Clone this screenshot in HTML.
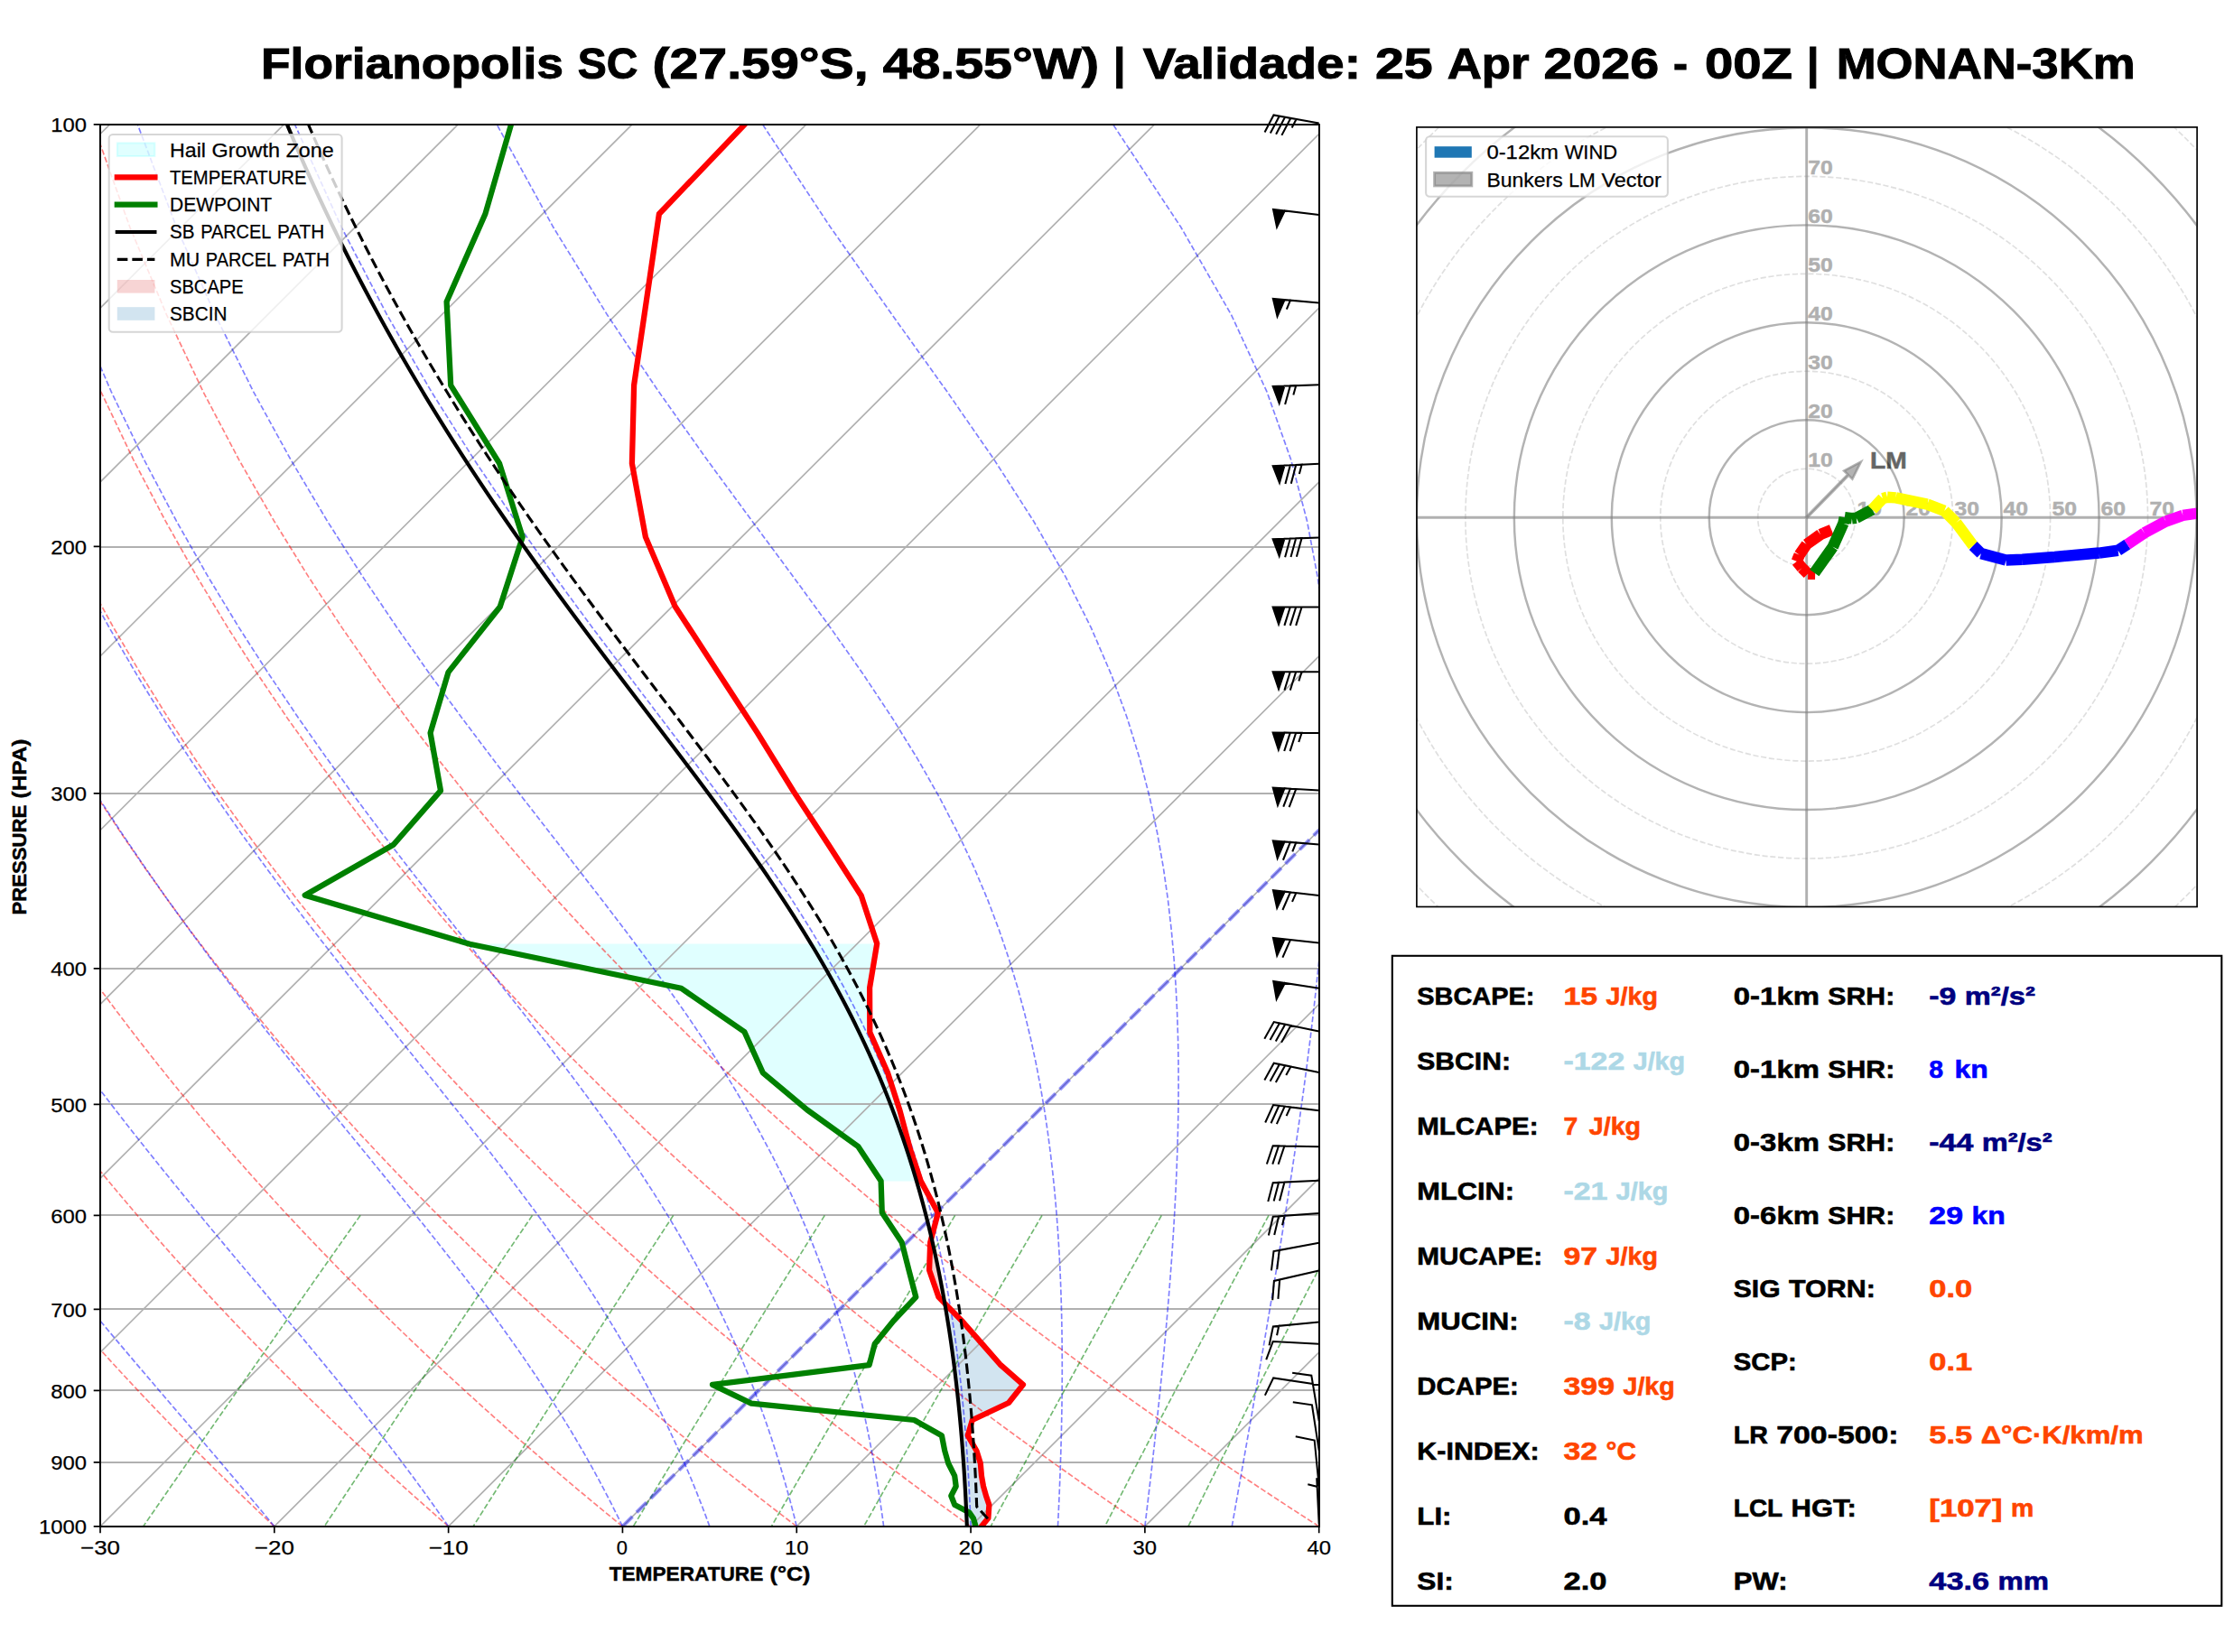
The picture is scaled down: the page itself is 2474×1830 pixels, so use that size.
<!DOCTYPE html>
<html><head><meta charset="utf-8"><title>Skew-T</title><style>html,body{margin:0;padding:0;background:#fff}svg{display:block}text{font-family:"Liberation Sans",sans-serif}</style></head><body>
<svg width="2474" height="1830" viewBox="0 0 2474 1830">
<rect width="2474" height="1830" fill="#fff"/>
<defs><clipPath id="cs"><rect x="111.0" y="137.8" width="1349.7" height="1553.1000000000001"/></clipPath>
<clipPath id="ch"><rect x="1568.9" y="141.4" width="863.6" height="863.6"/></clipPath></defs>
<text y="86.50" font-size="48.13" font-weight="bold" fill="#000" stroke="#000" stroke-width="1.01"><tspan x="289.00" textLength="334.87" lengthAdjust="spacingAndGlyphs">Florianopolis</tspan><tspan x="639.83" textLength="66.65" lengthAdjust="spacingAndGlyphs">SC</tspan><tspan x="722.43" textLength="239.26" lengthAdjust="spacingAndGlyphs">(27.59°S,</tspan><tspan x="977.65" textLength="239.39" lengthAdjust="spacingAndGlyphs">48.55°W)</tspan><tspan x="1233.00">|</tspan><tspan x="1265.69" textLength="241.28" lengthAdjust="spacingAndGlyphs">Validade:</tspan><tspan x="1522.92" textLength="63.78" lengthAdjust="spacingAndGlyphs">25</tspan><tspan x="1602.66" textLength="90.88" lengthAdjust="spacingAndGlyphs">Apr</tspan><tspan x="1709.50" textLength="127.56" lengthAdjust="spacingAndGlyphs">2026</tspan><tspan x="1853.02">-</tspan><tspan x="1888.00" textLength="97.01" lengthAdjust="spacingAndGlyphs">00Z</tspan><tspan x="2000.97">|</tspan><tspan x="2033.67" textLength="330.95" lengthAdjust="spacingAndGlyphs">MONAN-3Km</tspan></text>
<g clip-path="url(#cs)" fill="none">
<path d="M520.20,1045.50 L754.40,1094.80 L824.40,1143.00 L844.80,1188.30 L893.80,1229.40 L950.30,1270.00 L975.60,1308.60 L1019.70,1308.60 L1007.50,1271.40 L996.60,1230.50 L983.00,1188.30 L963.30,1143.40 L963.10,1094.30 L971.20,1045.50Z" fill="#00ffff" fill-opacity="0.12"/>
<path d="M1031.46,1371.50 L1031.33,1372.00 L1031.20,1372.50 L1031.07,1373.00 L1030.94,1373.50 L1030.80,1374.00 L1030.67,1374.50 L1030.54,1375.00 L1030.41,1375.50 L1030.28,1376.00 L1030.19,1376.50 L1030.17,1377.00 L1030.16,1377.50 L1030.14,1378.00 L1030.12,1378.50 L1030.10,1379.00 L1030.08,1379.50 L1030.07,1380.00 L1030.05,1380.50 L1030.03,1381.00 L1030.01,1381.50 L1030.00,1382.00 L1029.98,1382.50 L1029.96,1383.00 L1029.94,1383.50 L1029.92,1384.00 L1029.91,1384.50 L1029.89,1385.00 L1029.87,1385.50 L1029.85,1386.00 L1029.83,1386.50 L1029.82,1387.00 L1029.80,1387.50 L1029.78,1388.00 L1029.76,1388.50 L1029.74,1389.00 L1029.73,1389.50 L1029.71,1390.00 L1029.69,1390.50 L1029.67,1391.00 L1029.65,1391.50 L1029.64,1392.00 L1029.62,1392.50 L1029.60,1393.00 L1029.58,1393.50 L1029.56,1394.00 L1029.55,1394.50 L1029.53,1395.00 L1029.51,1395.50 L1029.49,1396.00 L1029.47,1396.50 L1029.46,1397.00 L1029.44,1397.50 L1029.42,1398.00 L1029.40,1398.50 L1029.38,1399.00 L1029.37,1399.50 L1029.35,1400.00 L1029.33,1400.50 L1029.31,1401.00 L1029.29,1401.50 L1029.28,1402.00 L1029.26,1402.50 L1029.24,1403.00 L1029.22,1403.50 L1029.20,1404.00 L1029.19,1404.50 L1029.17,1405.00 L1029.15,1405.50 L1029.13,1406.00 L1029.11,1406.50 L1029.13,1407.00 L1029.31,1407.50 L1029.48,1408.00 L1029.65,1408.50 L1029.83,1409.00 L1030.00,1409.50 L1030.17,1410.00 L1030.35,1410.50 L1030.52,1411.00 L1030.69,1411.50 L1030.87,1412.00 L1031.04,1412.50 L1031.21,1413.00 L1031.39,1413.50 L1031.56,1414.00 L1031.73,1414.50 L1031.91,1415.00 L1032.08,1415.50 L1032.25,1416.00 L1032.43,1416.50 L1032.60,1417.00 L1032.77,1417.50 L1032.95,1418.00 L1033.12,1418.50 L1033.29,1419.00 L1033.47,1419.50 L1033.64,1420.00 L1033.81,1420.50 L1033.99,1421.00 L1034.16,1421.50 L1034.33,1422.00 L1034.51,1422.50 L1034.68,1423.00 L1034.85,1423.50 L1035.03,1424.00 L1035.20,1424.50 L1035.37,1425.00 L1035.55,1425.50 L1035.72,1426.00 L1035.89,1426.50 L1036.07,1427.00 L1036.24,1427.50 L1036.41,1428.00 L1036.59,1428.50 L1036.76,1429.00 L1036.93,1429.50 L1037.11,1430.00 L1037.28,1430.50 L1037.45,1431.00 L1037.63,1431.50 L1037.80,1432.00 L1037.97,1432.50 L1038.15,1433.00 L1038.32,1433.50 L1038.49,1434.00 L1038.67,1434.50 L1038.84,1435.00 L1039.01,1435.50 L1039.19,1436.00 L1039.36,1436.50 L1039.60,1437.00 L1040.09,1437.50 L1040.58,1438.00 L1041.06,1438.50 L1041.55,1439.00 L1042.04,1439.50 L1042.53,1440.00 L1043.02,1440.50 L1043.51,1441.00 L1044.00,1441.50 L1044.49,1442.00 L1044.98,1442.50 L1045.46,1443.00 L1045.95,1443.50 L1046.23,1443.50 L1046.14,1443.00 L1046.06,1442.50 L1045.97,1442.00 L1045.88,1441.50 L1045.79,1441.00 L1045.70,1440.50 L1045.61,1440.00 L1045.53,1439.50 L1045.44,1439.00 L1045.35,1438.50 L1045.26,1438.00 L1045.17,1437.50 L1045.08,1437.00 L1044.99,1436.50 L1044.90,1436.00 L1044.81,1435.50 L1044.72,1435.00 L1044.63,1434.50 L1044.54,1434.00 L1044.45,1433.50 L1044.35,1433.00 L1044.26,1432.50 L1044.17,1432.00 L1044.08,1431.50 L1043.99,1431.00 L1043.90,1430.50 L1043.80,1430.00 L1043.71,1429.50 L1043.62,1429.00 L1043.53,1428.50 L1043.43,1428.00 L1043.34,1427.50 L1043.25,1427.00 L1043.15,1426.50 L1043.06,1426.00 L1042.96,1425.50 L1042.87,1425.00 L1042.77,1424.50 L1042.68,1424.00 L1042.58,1423.50 L1042.49,1423.00 L1042.39,1422.50 L1042.30,1422.00 L1042.20,1421.50 L1042.11,1421.00 L1042.01,1420.50 L1041.92,1420.00 L1041.82,1419.50 L1041.72,1419.00 L1041.63,1418.50 L1041.53,1418.00 L1041.43,1417.50 L1041.33,1417.00 L1041.24,1416.50 L1041.14,1416.00 L1041.04,1415.50 L1040.94,1415.00 L1040.84,1414.50 L1040.74,1414.00 L1040.65,1413.50 L1040.55,1413.00 L1040.45,1412.50 L1040.35,1412.00 L1040.25,1411.50 L1040.15,1411.00 L1040.05,1410.50 L1039.95,1410.00 L1039.85,1409.50 L1039.75,1409.00 L1039.65,1408.50 L1039.54,1408.00 L1039.44,1407.50 L1039.34,1407.00 L1039.24,1406.50 L1039.14,1406.00 L1039.04,1405.50 L1038.93,1405.00 L1038.83,1404.50 L1038.73,1404.00 L1038.63,1403.50 L1038.52,1403.00 L1038.42,1402.50 L1038.32,1402.00 L1038.21,1401.50 L1038.11,1401.00 L1038.00,1400.50 L1037.90,1400.00 L1037.80,1399.50 L1037.69,1399.00 L1037.59,1398.50 L1037.48,1398.00 L1037.37,1397.50 L1037.27,1397.00 L1037.16,1396.50 L1037.06,1396.00 L1036.95,1395.50 L1036.84,1395.00 L1036.74,1394.50 L1036.63,1394.00 L1036.52,1393.50 L1036.42,1393.00 L1036.31,1392.50 L1036.20,1392.00 L1036.09,1391.50 L1035.99,1391.00 L1035.88,1390.50 L1035.77,1390.00 L1035.66,1389.50 L1035.55,1389.00 L1035.44,1388.50 L1035.33,1388.00 L1035.22,1387.50 L1035.11,1387.00 L1035.00,1386.50 L1034.89,1386.00 L1034.78,1385.50 L1034.67,1385.00 L1034.56,1384.50 L1034.45,1384.00 L1034.34,1383.50 L1034.23,1383.00 L1034.11,1382.50 L1034.00,1382.00 L1033.89,1381.50 L1033.78,1381.00 L1033.67,1380.50 L1033.55,1380.00 L1033.44,1379.50 L1033.33,1379.00 L1033.21,1378.50 L1033.10,1378.00 L1032.98,1377.50 L1032.87,1377.00 L1032.76,1376.50 L1032.64,1376.00 L1032.53,1375.50 L1032.41,1375.00 L1032.30,1374.50 L1032.18,1374.00 L1032.07,1373.50 L1031.95,1373.00 L1031.83,1372.50 L1031.72,1372.00 L1031.60,1371.50Z" fill="#d62728" fill-opacity="0.2"/>
<path d="M1046.44,1444.00 L1046.93,1444.50 L1047.42,1445.00 L1047.91,1445.50 L1048.40,1446.00 L1048.89,1446.50 L1049.38,1447.00 L1049.87,1447.50 L1050.35,1448.00 L1050.84,1448.50 L1051.33,1449.00 L1051.82,1449.50 L1052.31,1450.00 L1052.80,1450.50 L1053.29,1451.00 L1053.78,1451.50 L1054.27,1452.00 L1054.75,1452.50 L1055.24,1453.00 L1055.73,1453.50 L1056.22,1454.00 L1056.71,1454.50 L1057.20,1455.00 L1057.69,1455.50 L1058.18,1456.00 L1058.67,1456.50 L1059.15,1457.00 L1059.64,1457.50 L1060.13,1458.00 L1060.62,1458.50 L1061.11,1459.00 L1061.60,1459.50 L1062.09,1460.00 L1062.58,1460.50 L1063.07,1461.00 L1063.56,1461.50 L1064.04,1462.00 L1064.53,1462.50 L1065.02,1463.00 L1065.51,1463.50 L1066.00,1464.00 L1066.44,1464.50 L1066.88,1465.00 L1067.32,1465.50 L1067.75,1466.00 L1068.19,1466.50 L1068.63,1467.00 L1069.07,1467.50 L1069.51,1468.00 L1069.95,1468.50 L1070.39,1469.00 L1070.82,1469.50 L1071.26,1470.00 L1071.70,1470.50 L1072.14,1471.00 L1072.58,1471.50 L1073.02,1472.00 L1073.46,1472.50 L1073.89,1473.00 L1074.33,1473.50 L1074.77,1474.00 L1075.21,1474.50 L1075.65,1475.00 L1076.09,1475.50 L1076.53,1476.00 L1076.96,1476.50 L1077.40,1477.00 L1077.84,1477.50 L1078.28,1478.00 L1078.72,1478.50 L1079.16,1479.00 L1079.60,1479.50 L1080.03,1480.00 L1080.47,1480.50 L1080.91,1481.00 L1081.35,1481.50 L1081.79,1482.00 L1082.23,1482.50 L1082.67,1483.00 L1083.10,1483.50 L1083.54,1484.00 L1083.98,1484.50 L1084.42,1485.00 L1084.86,1485.50 L1085.30,1486.00 L1085.74,1486.50 L1086.17,1487.00 L1086.61,1487.50 L1087.05,1488.00 L1087.49,1488.50 L1087.92,1489.00 L1088.36,1489.50 L1088.80,1490.00 L1089.23,1490.50 L1089.67,1491.00 L1090.11,1491.50 L1090.54,1492.00 L1090.98,1492.50 L1091.42,1493.00 L1091.85,1493.50 L1092.29,1494.00 L1092.73,1494.50 L1093.16,1495.00 L1093.60,1495.50 L1094.04,1496.00 L1094.47,1496.50 L1094.91,1497.00 L1095.35,1497.50 L1095.78,1498.00 L1096.22,1498.50 L1096.66,1499.00 L1097.09,1499.50 L1097.53,1500.00 L1097.97,1500.50 L1098.40,1501.00 L1098.84,1501.50 L1099.28,1502.00 L1099.71,1502.50 L1100.15,1503.00 L1100.59,1503.50 L1101.02,1504.00 L1101.46,1504.50 L1101.90,1505.00 L1102.33,1505.50 L1102.77,1506.00 L1103.21,1506.50 L1103.64,1507.00 L1104.08,1507.50 L1104.52,1508.00 L1104.95,1508.50 L1105.39,1509.00 L1105.83,1509.50 L1106.26,1510.00 L1106.70,1510.50 L1107.14,1511.00 L1107.63,1511.50 L1108.19,1512.00 L1108.76,1512.50 L1109.33,1513.00 L1109.89,1513.50 L1110.46,1514.00 L1111.02,1514.50 L1111.59,1515.00 L1112.16,1515.50 L1112.72,1516.00 L1113.29,1516.50 L1113.86,1517.00 L1114.42,1517.50 L1114.99,1518.00 L1115.56,1518.50 L1116.12,1519.00 L1116.69,1519.50 L1117.25,1520.00 L1117.82,1520.50 L1118.39,1521.00 L1118.95,1521.50 L1119.52,1522.00 L1120.09,1522.50 L1120.65,1523.00 L1121.22,1523.50 L1121.79,1524.00 L1122.35,1524.50 L1122.92,1525.00 L1123.48,1525.50 L1124.05,1526.00 L1124.62,1526.50 L1125.18,1527.00 L1125.75,1527.50 L1126.32,1528.00 L1126.88,1528.50 L1127.45,1529.00 L1128.02,1529.50 L1128.58,1530.00 L1129.15,1530.50 L1129.72,1531.00 L1130.28,1531.50 L1130.85,1532.00 L1131.41,1532.50 L1131.98,1533.00 L1132.55,1533.50 L1132.92,1534.00 L1132.52,1534.50 L1132.12,1535.00 L1131.73,1535.50 L1131.33,1536.00 L1130.93,1536.50 L1130.53,1537.00 L1130.13,1537.50 L1129.74,1538.00 L1129.34,1538.50 L1128.94,1539.00 L1128.54,1539.50 L1128.14,1540.00 L1127.75,1540.50 L1127.35,1541.00 L1126.95,1541.50 L1126.55,1542.00 L1126.15,1542.50 L1125.76,1543.00 L1125.36,1543.50 L1124.96,1544.00 L1124.56,1544.50 L1124.16,1545.00 L1123.77,1545.50 L1123.37,1546.00 L1122.97,1546.50 L1122.57,1547.00 L1122.17,1547.50 L1121.78,1548.00 L1121.38,1548.50 L1120.98,1549.00 L1120.58,1549.50 L1120.18,1550.00 L1119.79,1550.50 L1119.39,1551.00 L1118.99,1551.50 L1118.59,1552.00 L1118.19,1552.50 L1117.80,1553.00 L1117.40,1553.50 L1117.00,1554.00 L1115.94,1554.50 L1114.88,1555.00 L1113.83,1555.50 L1112.77,1556.00 L1111.71,1556.50 L1110.65,1557.00 L1109.59,1557.50 L1108.54,1558.00 L1107.48,1558.50 L1106.42,1559.00 L1105.36,1559.50 L1104.31,1560.00 L1103.25,1560.50 L1102.19,1561.00 L1101.13,1561.50 L1100.07,1562.00 L1099.02,1562.50 L1097.96,1563.00 L1096.90,1563.50 L1095.84,1564.00 L1094.78,1564.50 L1093.73,1565.00 L1092.67,1565.50 L1091.61,1566.00 L1090.55,1566.50 L1089.49,1567.00 L1088.44,1567.50 L1087.38,1568.00 L1086.32,1568.50 L1085.26,1569.00 L1084.21,1569.50 L1083.15,1570.00 L1082.09,1570.50 L1081.03,1571.00 L1079.97,1571.50 L1078.92,1572.00 L1077.86,1572.50 L1076.80,1573.00 L1076.65,1573.50 L1076.51,1574.00 L1076.36,1574.50 L1076.22,1575.00 L1076.07,1575.50 L1075.93,1576.00 L1075.78,1576.50 L1075.64,1577.00 L1075.49,1577.50 L1075.35,1578.00 L1075.20,1578.50 L1075.06,1579.00 L1074.91,1579.50 L1074.77,1580.00 L1074.62,1580.50 L1074.47,1581.00 L1074.33,1581.50 L1074.18,1582.00 L1074.04,1582.50 L1073.89,1583.00 L1073.75,1583.50 L1073.60,1584.00 L1073.46,1584.50 L1073.31,1585.00 L1073.17,1585.50 L1073.02,1586.00 L1072.88,1586.50 L1072.73,1587.00 L1072.58,1587.50 L1072.44,1588.00 L1072.29,1588.50 L1072.15,1589.00 L1072.00,1589.50 L1071.86,1590.00 L1071.97,1590.50 L1072.26,1591.00 L1072.54,1591.50 L1072.83,1592.00 L1073.11,1592.50 L1073.40,1593.00 L1073.68,1593.50 L1073.97,1594.00 L1074.25,1594.50 L1074.54,1595.00 L1074.82,1595.50 L1075.11,1596.00 L1075.39,1596.50 L1075.68,1597.00 L1075.97,1597.50 L1076.25,1598.00 L1076.54,1598.50 L1076.82,1599.00 L1077.11,1599.50 L1077.39,1600.00 L1077.68,1600.50 L1077.96,1601.00 L1078.25,1601.50 L1078.53,1602.00 L1078.82,1602.50 L1079.10,1603.00 L1079.39,1603.50 L1079.67,1604.00 L1079.96,1604.50 L1080.24,1605.00 L1080.53,1605.50 L1080.82,1606.00 L1081.10,1606.50 L1081.39,1607.00 L1081.59,1607.50 L1081.75,1608.00 L1081.91,1608.50 L1082.06,1609.00 L1082.22,1609.50 L1082.37,1610.00 L1082.53,1610.50 L1082.68,1611.00 L1082.84,1611.50 L1083.00,1612.00 L1083.15,1612.50 L1083.31,1613.00 L1083.46,1613.50 L1083.62,1614.00 L1083.77,1614.50 L1083.93,1615.00 L1084.09,1615.50 L1084.24,1616.00 L1084.40,1616.50 L1084.55,1617.00 L1084.71,1617.50 L1084.87,1618.00 L1085.02,1618.50 L1085.18,1619.00 L1085.33,1619.50 L1085.49,1620.00 L1085.64,1620.50 L1085.80,1621.00 L1085.84,1621.50 L1085.89,1622.00 L1085.93,1622.50 L1085.97,1623.00 L1086.01,1623.50 L1086.06,1624.00 L1086.10,1624.50 L1086.14,1625.00 L1086.19,1625.50 L1086.23,1626.00 L1086.27,1626.50 L1086.31,1627.00 L1086.36,1627.50 L1086.40,1628.00 L1086.44,1628.50 L1086.49,1629.00 L1086.53,1629.50 L1086.57,1630.00 L1086.61,1630.50 L1086.66,1631.00 L1086.70,1631.50 L1086.74,1632.00 L1086.79,1632.50 L1086.83,1633.00 L1086.87,1633.50 L1086.91,1634.00 L1086.96,1634.50 L1087.00,1635.00 L1087.09,1635.50 L1087.18,1636.00 L1087.26,1636.50 L1087.35,1637.00 L1087.44,1637.50 L1087.53,1638.00 L1087.61,1638.50 L1087.70,1639.00 L1087.79,1639.50 L1087.88,1640.00 L1087.96,1640.50 L1088.05,1641.00 L1088.14,1641.50 L1088.23,1642.00 L1088.32,1642.50 L1088.40,1643.00 L1088.49,1643.50 L1088.58,1644.00 L1088.67,1644.50 L1088.75,1645.00 L1088.84,1645.50 L1088.93,1646.00 L1089.03,1646.50 L1089.17,1647.00 L1089.31,1647.50 L1089.45,1648.00 L1089.59,1648.50 L1089.74,1649.00 L1089.88,1649.50 L1090.02,1650.00 L1090.16,1650.50 L1090.30,1651.00 L1090.44,1651.50 L1090.58,1652.00 L1090.73,1652.50 L1090.87,1653.00 L1091.01,1653.50 L1091.15,1654.00 L1091.29,1654.50 L1091.43,1655.00 L1091.58,1655.50 L1091.72,1656.00 L1091.86,1656.50 L1092.00,1657.00 L1092.17,1657.50 L1092.34,1658.00 L1092.51,1658.50 L1092.68,1659.00 L1092.85,1659.50 L1093.02,1660.00 L1093.19,1660.50 L1093.36,1661.00 L1093.53,1661.50 L1093.70,1662.00 L1093.87,1662.50 L1094.04,1663.00 L1094.21,1663.50 L1094.38,1664.00 L1094.55,1664.50 L1094.72,1665.00 L1094.89,1665.50 L1095.06,1666.00 L1095.23,1666.50 L1095.40,1667.00 L1095.37,1667.50 L1095.33,1668.00 L1095.30,1668.50 L1095.26,1669.00 L1095.23,1669.50 L1095.20,1670.00 L1095.16,1670.50 L1095.13,1671.00 L1095.10,1671.50 L1095.06,1672.00 L1095.03,1672.50 L1094.99,1673.00 L1094.96,1673.50 L1094.93,1674.00 L1094.89,1674.50 L1094.86,1675.00 L1094.83,1675.50 L1094.79,1676.00 L1094.76,1676.50 L1094.72,1677.00 L1094.69,1677.50 L1094.66,1678.00 L1094.62,1678.50 L1094.59,1679.00 L1094.56,1679.50 L1094.52,1680.00 L1094.49,1680.50 L1094.45,1681.00 L1094.42,1681.50 L1094.23,1682.00 L1093.82,1682.50 L1093.40,1683.00 L1092.99,1683.50 L1092.57,1684.00 L1092.16,1684.50 L1091.74,1685.00 L1091.32,1685.50 L1090.91,1686.00 L1090.49,1686.50 L1090.08,1687.00 L1089.66,1687.50 L1089.24,1688.00 L1088.83,1688.50 L1088.41,1689.00 L1088.00,1689.50 L1087.58,1690.00 L1087.17,1690.50 L1086.77,1691.00 L1070.83,1691.00 L1070.81,1690.50 L1070.79,1690.00 L1070.77,1689.50 L1070.75,1689.00 L1070.73,1688.50 L1070.71,1688.00 L1070.69,1687.50 L1070.67,1687.00 L1070.65,1686.50 L1070.63,1686.00 L1070.61,1685.50 L1070.59,1685.00 L1070.57,1684.50 L1070.55,1684.00 L1070.53,1683.50 L1070.51,1683.00 L1070.49,1682.50 L1070.46,1682.00 L1070.44,1681.50 L1070.42,1681.00 L1070.40,1680.50 L1070.38,1680.00 L1070.36,1679.50 L1070.34,1679.00 L1070.31,1678.50 L1070.29,1678.00 L1070.27,1677.50 L1070.25,1677.00 L1070.22,1676.50 L1070.20,1676.00 L1070.18,1675.50 L1070.16,1675.00 L1070.13,1674.50 L1070.11,1674.00 L1070.09,1673.50 L1070.06,1673.00 L1070.04,1672.50 L1070.02,1672.00 L1069.99,1671.50 L1069.97,1671.00 L1069.95,1670.50 L1069.92,1670.00 L1069.90,1669.50 L1069.88,1669.00 L1069.85,1668.50 L1069.83,1668.00 L1069.80,1667.50 L1069.78,1667.00 L1069.76,1666.50 L1069.73,1666.00 L1069.71,1665.50 L1069.68,1665.00 L1069.66,1664.50 L1069.63,1664.00 L1069.61,1663.50 L1069.58,1663.00 L1069.56,1662.50 L1069.53,1662.00 L1069.51,1661.50 L1069.48,1661.00 L1069.45,1660.50 L1069.43,1660.00 L1069.40,1659.50 L1069.38,1659.00 L1069.35,1658.50 L1069.33,1658.00 L1069.30,1657.50 L1069.27,1657.00 L1069.25,1656.50 L1069.22,1656.00 L1069.19,1655.50 L1069.17,1655.00 L1069.14,1654.50 L1069.11,1654.00 L1069.09,1653.50 L1069.06,1653.00 L1069.03,1652.50 L1069.00,1652.00 L1068.98,1651.50 L1068.95,1651.00 L1068.92,1650.50 L1068.89,1650.00 L1068.86,1649.50 L1068.84,1649.00 L1068.81,1648.50 L1068.78,1648.00 L1068.75,1647.50 L1068.72,1647.00 L1068.69,1646.50 L1068.67,1646.00 L1068.64,1645.50 L1068.61,1645.00 L1068.58,1644.50 L1068.55,1644.00 L1068.52,1643.50 L1068.49,1643.00 L1068.46,1642.50 L1068.43,1642.00 L1068.40,1641.50 L1068.37,1641.00 L1068.34,1640.50 L1068.31,1640.00 L1068.28,1639.50 L1068.25,1639.00 L1068.22,1638.50 L1068.19,1638.00 L1068.16,1637.50 L1068.13,1637.00 L1068.10,1636.50 L1068.07,1636.00 L1068.04,1635.50 L1068.01,1635.00 L1067.98,1634.50 L1067.94,1634.00 L1067.91,1633.50 L1067.88,1633.00 L1067.85,1632.50 L1067.82,1632.00 L1067.79,1631.50 L1067.75,1631.00 L1067.72,1630.50 L1067.69,1630.00 L1067.66,1629.50 L1067.62,1629.00 L1067.59,1628.50 L1067.56,1628.00 L1067.53,1627.50 L1067.49,1627.00 L1067.46,1626.50 L1067.43,1626.00 L1067.39,1625.50 L1067.36,1625.00 L1067.33,1624.50 L1067.29,1624.00 L1067.26,1623.50 L1067.23,1623.00 L1067.19,1622.50 L1067.16,1622.00 L1067.12,1621.50 L1067.09,1621.00 L1067.06,1620.50 L1067.02,1620.00 L1066.99,1619.50 L1066.95,1619.00 L1066.92,1618.50 L1066.88,1618.00 L1066.85,1617.50 L1066.81,1617.00 L1066.78,1616.50 L1066.74,1616.00 L1066.70,1615.50 L1066.67,1615.00 L1066.63,1614.50 L1066.60,1614.00 L1066.56,1613.50 L1066.52,1613.00 L1066.49,1612.50 L1066.45,1612.00 L1066.42,1611.50 L1066.38,1611.00 L1066.34,1610.50 L1066.31,1610.00 L1066.27,1609.50 L1066.23,1609.00 L1066.19,1608.50 L1066.16,1608.00 L1066.12,1607.50 L1066.08,1607.00 L1066.04,1606.50 L1066.01,1606.00 L1065.97,1605.50 L1065.93,1605.00 L1065.89,1604.50 L1065.85,1604.00 L1065.81,1603.50 L1065.78,1603.00 L1065.74,1602.50 L1065.70,1602.00 L1065.66,1601.50 L1065.62,1601.00 L1065.58,1600.50 L1065.54,1600.00 L1065.50,1599.50 L1065.46,1599.00 L1065.42,1598.50 L1065.38,1598.00 L1065.34,1597.50 L1065.30,1597.00 L1065.26,1596.50 L1065.22,1596.00 L1065.18,1595.50 L1065.14,1595.00 L1065.10,1594.50 L1065.06,1594.00 L1065.02,1593.50 L1064.98,1593.00 L1064.94,1592.50 L1064.90,1592.00 L1064.85,1591.50 L1064.81,1591.00 L1064.77,1590.50 L1064.73,1590.00 L1064.69,1589.50 L1064.65,1589.00 L1064.60,1588.50 L1064.56,1588.00 L1064.52,1587.50 L1064.48,1587.00 L1064.43,1586.50 L1064.39,1586.00 L1064.35,1585.50 L1064.30,1585.00 L1064.26,1584.50 L1064.22,1584.00 L1064.17,1583.50 L1064.13,1583.00 L1064.09,1582.50 L1064.04,1582.00 L1064.00,1581.50 L1063.96,1581.00 L1063.91,1580.50 L1063.87,1580.00 L1063.82,1579.50 L1063.78,1579.00 L1063.73,1578.50 L1063.69,1578.00 L1063.64,1577.50 L1063.60,1577.00 L1063.55,1576.50 L1063.51,1576.00 L1063.46,1575.50 L1063.42,1575.00 L1063.37,1574.50 L1063.32,1574.00 L1063.28,1573.50 L1063.23,1573.00 L1063.19,1572.50 L1063.14,1572.00 L1063.09,1571.50 L1063.05,1571.00 L1063.00,1570.50 L1062.95,1570.00 L1062.90,1569.50 L1062.86,1569.00 L1062.81,1568.50 L1062.76,1568.00 L1062.71,1567.50 L1062.67,1567.00 L1062.62,1566.50 L1062.57,1566.00 L1062.52,1565.50 L1062.47,1565.00 L1062.43,1564.50 L1062.38,1564.00 L1062.33,1563.50 L1062.28,1563.00 L1062.23,1562.50 L1062.18,1562.00 L1062.13,1561.50 L1062.08,1561.00 L1062.03,1560.50 L1061.98,1560.00 L1061.93,1559.50 L1061.88,1559.00 L1061.83,1558.50 L1061.78,1558.00 L1061.73,1557.50 L1061.68,1557.00 L1061.63,1556.50 L1061.58,1556.00 L1061.53,1555.50 L1061.48,1555.00 L1061.43,1554.50 L1061.38,1554.00 L1061.32,1553.50 L1061.27,1553.00 L1061.22,1552.50 L1061.17,1552.00 L1061.12,1551.50 L1061.06,1551.00 L1061.01,1550.50 L1060.96,1550.00 L1060.91,1549.50 L1060.85,1549.00 L1060.80,1548.50 L1060.75,1548.00 L1060.69,1547.50 L1060.64,1547.00 L1060.59,1546.50 L1060.53,1546.00 L1060.48,1545.50 L1060.43,1545.00 L1060.37,1544.50 L1060.32,1544.00 L1060.26,1543.50 L1060.21,1543.00 L1060.15,1542.50 L1060.10,1542.00 L1060.04,1541.50 L1059.99,1541.00 L1059.93,1540.50 L1059.88,1540.00 L1059.82,1539.50 L1059.77,1539.00 L1059.71,1538.50 L1059.66,1538.00 L1059.60,1537.50 L1059.54,1537.00 L1059.49,1536.50 L1059.43,1536.00 L1059.37,1535.50 L1059.32,1535.00 L1059.26,1534.50 L1059.20,1534.00 L1059.15,1533.50 L1059.09,1533.00 L1059.03,1532.50 L1058.97,1532.00 L1058.92,1531.50 L1058.86,1531.00 L1058.80,1530.50 L1058.74,1530.00 L1058.68,1529.50 L1058.62,1529.00 L1058.56,1528.50 L1058.51,1528.00 L1058.45,1527.50 L1058.39,1527.00 L1058.33,1526.50 L1058.27,1526.00 L1058.21,1525.50 L1058.15,1525.00 L1058.09,1524.50 L1058.03,1524.00 L1057.97,1523.50 L1057.91,1523.00 L1057.85,1522.50 L1057.79,1522.00 L1057.73,1521.50 L1057.67,1521.00 L1057.60,1520.50 L1057.54,1520.00 L1057.48,1519.50 L1057.42,1519.00 L1057.36,1518.50 L1057.30,1518.00 L1057.23,1517.50 L1057.17,1517.00 L1057.11,1516.50 L1057.05,1516.00 L1056.98,1515.50 L1056.92,1515.00 L1056.86,1514.50 L1056.79,1514.00 L1056.73,1513.50 L1056.67,1513.00 L1056.60,1512.50 L1056.54,1512.00 L1056.48,1511.50 L1056.41,1511.00 L1056.35,1510.50 L1056.28,1510.00 L1056.22,1509.50 L1056.15,1509.00 L1056.09,1508.50 L1056.02,1508.00 L1055.96,1507.50 L1055.89,1507.00 L1055.83,1506.50 L1055.76,1506.00 L1055.70,1505.50 L1055.63,1505.00 L1055.56,1504.50 L1055.50,1504.00 L1055.43,1503.50 L1055.36,1503.00 L1055.30,1502.50 L1055.23,1502.00 L1055.16,1501.50 L1055.10,1501.00 L1055.03,1500.50 L1054.96,1500.00 L1054.89,1499.50 L1054.83,1499.00 L1054.76,1498.50 L1054.69,1498.00 L1054.62,1497.50 L1054.55,1497.00 L1054.48,1496.50 L1054.41,1496.00 L1054.35,1495.50 L1054.28,1495.00 L1054.21,1494.50 L1054.14,1494.00 L1054.07,1493.50 L1054.00,1493.00 L1053.93,1492.50 L1053.86,1492.00 L1053.79,1491.50 L1053.72,1491.00 L1053.65,1490.50 L1053.58,1490.00 L1053.50,1489.50 L1053.43,1489.00 L1053.36,1488.50 L1053.29,1488.00 L1053.22,1487.50 L1053.15,1487.00 L1053.07,1486.50 L1053.00,1486.00 L1052.93,1485.50 L1052.86,1485.00 L1052.79,1484.50 L1052.71,1484.00 L1052.64,1483.50 L1052.57,1483.00 L1052.49,1482.50 L1052.42,1482.00 L1052.35,1481.50 L1052.27,1481.00 L1052.20,1480.50 L1052.12,1480.00 L1052.05,1479.50 L1051.97,1479.00 L1051.90,1478.50 L1051.82,1478.00 L1051.75,1477.50 L1051.67,1477.00 L1051.60,1476.50 L1051.52,1476.00 L1051.45,1475.50 L1051.37,1475.00 L1051.30,1474.50 L1051.22,1474.00 L1051.14,1473.50 L1051.07,1473.00 L1050.99,1472.50 L1050.91,1472.00 L1050.84,1471.50 L1050.76,1471.00 L1050.68,1470.50 L1050.60,1470.00 L1050.52,1469.50 L1050.45,1469.00 L1050.37,1468.50 L1050.29,1468.00 L1050.21,1467.50 L1050.13,1467.00 L1050.05,1466.50 L1049.98,1466.00 L1049.90,1465.50 L1049.82,1465.00 L1049.74,1464.50 L1049.66,1464.00 L1049.58,1463.50 L1049.50,1463.00 L1049.42,1462.50 L1049.34,1462.00 L1049.26,1461.50 L1049.17,1461.00 L1049.09,1460.50 L1049.01,1460.00 L1048.93,1459.50 L1048.85,1459.00 L1048.77,1458.50 L1048.69,1458.00 L1048.60,1457.50 L1048.52,1457.00 L1048.44,1456.50 L1048.36,1456.00 L1048.27,1455.50 L1048.19,1455.00 L1048.11,1454.50 L1048.02,1454.00 L1047.94,1453.50 L1047.86,1453.00 L1047.77,1452.50 L1047.69,1452.00 L1047.60,1451.50 L1047.52,1451.00 L1047.44,1450.50 L1047.35,1450.00 L1047.27,1449.50 L1047.18,1449.00 L1047.09,1448.50 L1047.01,1448.00 L1046.92,1447.50 L1046.84,1447.00 L1046.75,1446.50 L1046.66,1446.00 L1046.58,1445.50 L1046.49,1445.00 L1046.40,1444.50 L1046.32,1444.00Z" fill="#1f77b4" fill-opacity="0.2"/>
<path d="M111.0,606H1460.7M111.0,879H1460.7M111.0,1073H1460.7M111.0,1223H1460.7M111.0,1346H1460.7M111.0,1450H1460.7M111.0,1540H1460.7M111.0,1620H1460.7" stroke="#b0b0b0" stroke-width="2"/>
<path d="M-1624.33,1690.9L-71.23,137.8M-1431.51,1690.9L121.59,137.8M-1238.70,1690.9L314.40,137.8M-1045.89,1690.9L507.21,137.8M-853.07,1690.9L700.03,137.8M-660.26,1690.9L892.84,137.8M-467.44,1690.9L1085.66,137.8M-274.63,1690.9L1278.47,137.8M-81.81,1690.9L1471.29,137.8M111.00,1690.9L1664.10,137.8M303.81,1690.9L1856.91,137.8M496.63,1690.9L2049.73,137.8M689.44,1690.9L2242.54,137.8M882.26,1690.9L2435.36,137.8M1075.07,1690.9L2628.17,137.8M1267.89,1690.9L2820.99,137.8M1460.70,1690.9L3013.80,137.8" stroke="#b0b0b0" stroke-width="1.67"/>
<path d="M111.00,1690.90 L98.74,1678.40 L86.38,1665.66 L73.92,1652.67 L61.36,1639.43 L48.70,1625.92 L35.93,1612.14 L23.06,1598.07 L10.08,1583.71 L-3.02,1569.02 L-16.23,1554.02 L-29.55,1538.67 L-42.99,1522.96 L-56.55,1506.88 L-70.23,1490.40 L-84.04,1473.52 L-97.98,1456.20 L-112.04,1438.42 L-126.24,1420.16 L-140.57,1401.39 L-155.04,1382.09 L-169.65,1362.22 L-184.40,1341.74 L-199.29,1320.63 L-214.33,1298.83 L-229.52,1276.30 L-244.85,1252.99 L-260.33,1228.85 L-275.96,1203.82 L-291.74,1177.82 L-307.66,1150.77 L-323.73,1122.60 L-339.94,1093.20 L-356.29,1062.46 L-372.76,1030.25 L-389.35,996.42 L-406.04,960.81 L-422.82,923.21 L-439.64,883.39 L-456.49,841.07 L-473.30,795.92 L-490.02,747.53 L-506.55,695.40 L-522.78,638.89 L-538.53,577.22 L-553.56,509.34 L-567.51,433.85 L-579.86,348.83 L-589.78,251.54 L-595.90,137.80M303.81,1690.90 L290.53,1678.40 L277.14,1665.66 L263.64,1652.67 L250.02,1639.43 L236.28,1625.92 L222.42,1612.14 L208.44,1598.07 L194.33,1583.71 L180.09,1569.02 L165.73,1554.02 L151.22,1538.67 L136.58,1522.96 L121.80,1506.88 L106.88,1490.40 L91.81,1473.52 L76.59,1456.20 L61.21,1438.42 L45.68,1420.16 L29.99,1401.39 L14.13,1382.09 L-1.90,1362.22 L-18.10,1341.74 L-34.47,1320.63 L-51.02,1298.83 L-67.76,1276.30 L-84.68,1252.99 L-101.79,1228.85 L-119.09,1203.82 L-136.59,1177.82 L-154.28,1150.77 L-172.17,1122.60 L-190.26,1093.20 L-208.54,1062.46 L-227.01,1030.25 L-245.68,996.42 L-264.52,960.81 L-283.53,923.21 L-302.68,883.39 L-321.96,841.07 L-341.32,795.92 L-360.72,747.53 L-380.08,695.40 L-399.29,638.89 L-418.23,577.22 L-436.67,509.34 L-454.30,433.85 L-470.66,348.83 L-484.98,251.54 L-496.03,137.80M496.63,1690.90 L482.33,1678.40 L467.91,1665.66 L453.35,1652.67 L438.67,1639.43 L423.86,1625.92 L408.91,1612.14 L393.82,1598.07 L378.59,1583.71 L363.21,1569.02 L347.68,1554.02 L332.00,1538.67 L316.16,1522.96 L300.16,1506.88 L284.00,1490.40 L267.66,1473.52 L251.15,1456.20 L234.47,1438.42 L217.60,1420.16 L200.55,1401.39 L183.30,1382.09 L165.86,1362.22 L148.21,1341.74 L130.36,1320.63 L112.29,1298.83 L94.00,1276.30 L75.49,1252.99 L56.75,1228.85 L37.78,1203.82 L18.56,1177.82 L-0.90,1150.77 L-20.61,1122.60 L-40.57,1093.20 L-60.79,1062.46 L-81.27,1030.25 L-102.00,996.42 L-123.00,960.81 L-144.24,923.21 L-165.73,883.39 L-187.44,841.07 L-209.35,795.92 L-231.42,747.53 L-253.60,695.40 L-275.81,638.89 L-297.93,577.22 L-319.78,509.34 L-341.09,433.85 L-361.45,348.83 L-380.19,251.54 L-396.16,137.80M689.44,1690.90 L674.12,1678.40 L658.67,1665.66 L643.07,1652.67 L627.33,1639.43 L611.44,1625.92 L595.40,1612.14 L579.20,1598.07 L562.84,1583.71 L546.32,1569.02 L529.63,1554.02 L512.77,1538.67 L495.73,1522.96 L478.51,1506.88 L461.11,1490.40 L443.51,1473.52 L425.72,1456.20 L407.73,1438.42 L389.53,1420.16 L371.11,1401.39 L352.47,1382.09 L333.61,1362.22 L314.52,1341.74 L295.18,1320.63 L275.60,1298.83 L255.76,1276.30 L235.66,1252.99 L215.29,1228.85 L194.65,1203.82 L173.71,1177.82 L152.49,1150.77 L130.96,1122.60 L109.12,1093.20 L86.96,1062.46 L64.48,1030.25 L41.67,996.42 L18.53,960.81 L-4.95,923.21 L-28.77,883.39 L-52.91,841.07 L-77.37,795.92 L-102.12,747.53 L-127.13,695.40 L-152.33,638.89 L-177.63,577.22 L-202.89,509.34 L-227.88,433.85 L-252.24,348.83 L-275.39,251.54 L-296.29,137.80M882.26,1690.90 L865.92,1678.40 L849.43,1665.66 L832.79,1652.67 L815.98,1639.43 L799.02,1625.92 L781.88,1612.14 L764.58,1598.07 L747.10,1583.71 L729.43,1569.02 L711.58,1554.02 L693.54,1538.67 L675.31,1522.96 L656.87,1506.88 L638.22,1490.40 L619.37,1473.52 L600.29,1456.20 L580.98,1438.42 L561.45,1420.16 L541.67,1401.39 L521.65,1382.09 L501.37,1362.22 L480.82,1341.74 L460.00,1320.63 L438.91,1298.83 L417.52,1276.30 L395.83,1252.99 L373.83,1228.85 L351.51,1203.82 L328.86,1177.82 L305.87,1150.77 L282.52,1122.60 L258.81,1093.20 L234.71,1062.46 L210.23,1030.25 L185.35,996.42 L160.05,960.81 L134.33,923.21 L108.19,883.39 L81.61,841.07 L54.60,795.92 L27.18,747.53 L-0.65,695.40 L-28.84,638.89 L-57.33,577.22 L-86.00,509.34 L-114.67,433.85 L-143.04,348.83 L-170.59,251.54 L-196.43,137.80M1075.07,1690.90 L1057.72,1678.40 L1040.20,1665.66 L1022.51,1652.67 L1004.64,1639.43 L986.60,1625.92 L968.37,1612.14 L949.96,1598.07 L931.35,1583.71 L912.54,1569.02 L893.54,1554.02 L874.32,1538.67 L854.88,1522.96 L835.23,1506.88 L815.34,1490.40 L795.22,1473.52 L774.86,1456.20 L754.24,1438.42 L733.37,1420.16 L712.23,1401.39 L690.82,1382.09 L669.12,1362.22 L647.13,1341.74 L624.83,1320.63 L602.22,1298.83 L579.28,1276.30 L556.00,1252.99 L532.37,1228.85 L508.38,1203.82 L484.01,1177.82 L459.25,1150.77 L434.08,1122.60 L408.49,1093.20 L382.46,1062.46 L355.98,1030.25 L329.02,996.42 L301.57,960.81 L273.62,923.21 L245.15,883.39 L216.14,841.07 L186.58,795.92 L156.47,747.53 L125.82,695.40 L94.64,638.89 L62.97,577.22 L30.89,509.34 L-1.46,433.85 L-33.83,348.83 L-65.80,251.54 L-96.56,137.80M1267.89,1690.90 L1249.51,1678.40 L1230.96,1665.66 L1212.22,1652.67 L1193.30,1639.43 L1174.18,1625.92 L1154.86,1612.14 L1135.34,1598.07 L1115.61,1583.71 L1095.66,1569.02 L1075.49,1554.02 L1055.09,1538.67 L1034.46,1522.96 L1013.58,1506.88 L992.45,1490.40 L971.07,1473.52 L949.42,1456.20 L927.50,1438.42 L905.29,1420.16 L882.79,1401.39 L859.99,1382.09 L836.87,1362.22 L813.43,1341.74 L789.65,1320.63 L765.53,1298.83 L741.04,1276.30 L716.17,1252.99 L690.91,1228.85 L665.25,1203.82 L639.16,1177.82 L612.63,1150.77 L585.65,1122.60 L558.18,1093.20 L530.21,1062.46 L501.73,1030.25 L472.69,996.42 L443.10,960.81 L412.91,923.21 L382.10,883.39 L350.66,841.07 L318.56,795.92 L285.77,747.53 L252.30,695.40 L218.12,638.89 L183.27,577.22 L147.78,509.34 L111.75,433.85 L75.37,348.83 L39.00,251.54 L3.31,137.80M1460.70,1690.90 L1441.31,1678.40 L1421.72,1665.66 L1401.94,1652.67 L1381.95,1639.43 L1361.76,1625.92 L1341.35,1612.14 L1320.72,1598.07 L1299.86,1583.71 L1278.77,1569.02 L1257.44,1554.02 L1235.86,1538.67 L1214.03,1522.96 L1191.94,1506.88 L1169.57,1490.40 L1146.92,1473.52 L1123.99,1456.20 L1100.76,1438.42 L1077.22,1420.16 L1053.35,1401.39 L1029.16,1382.09 L1004.63,1362.22 L979.74,1341.74 L954.48,1320.63 L928.84,1298.83 L902.80,1276.30 L876.34,1252.99 L849.45,1228.85 L822.12,1203.82 L794.31,1177.82 L766.02,1150.77 L737.21,1122.60 L707.87,1093.20 L677.96,1062.46 L647.47,1030.25 L616.37,996.42 L584.62,960.81 L552.20,923.21 L519.06,883.39 L485.19,841.07 L450.53,795.92 L415.07,747.53 L378.77,695.40 L341.61,638.89 L303.57,577.22 L264.67,509.34 L224.96,433.85 L184.58,348.83 L143.80,251.54 L103.18,137.80" stroke="#ff0000" stroke-opacity="0.5" stroke-width="1.67" stroke-dasharray="6.17,2.67"/>
<path d="M111.00,1690.90 L100.09,1678.40 L88.99,1665.66 L77.69,1652.67 L66.20,1639.43 L54.52,1625.92 L42.65,1612.14 L30.60,1598.07 L18.35,1583.71 L5.93,1569.02 L-6.69,1554.02 L-19.48,1538.67 L-32.46,1522.96 L-45.62,1506.88 L-58.95,1490.40 L-72.46,1473.52 L-86.15,1456.20 L-100.01,1438.42 L-114.04,1420.16 L-128.25,1401.39 L-142.63,1382.09 L-157.18,1362.22 L-171.89,1341.74 L-186.78,1320.63 L-201.83,1298.83 L-217.05,1276.30 L-232.44,1252.99 L-247.99,1228.85 L-263.71,1203.82 L-279.59,1177.82 L-295.62,1150.77 L-311.82,1122.60 L-328.16,1093.20 L-344.65,1062.46 L-361.27,1030.25 L-378.02,996.42 L-394.88,960.81 L-411.82,923.21 L-428.83,883.39 L-445.87,841.07 L-462.88,795.92 L-479.81,747.53 L-496.57,695.40 L-513.03,638.89 L-529.03,577.22 L-544.33,509.34 L-558.57,433.85 L-571.24,348.83 L-581.51,251.54 L-588.01,137.80M303.81,1690.90 L293.48,1678.40 L282.88,1665.66 L272.00,1652.67 L260.84,1639.43 L249.40,1625.92 L237.68,1612.14 L225.68,1598.07 L213.39,1583.71 L200.83,1569.02 L187.98,1554.02 L174.86,1538.67 L161.46,1522.96 L147.78,1506.88 L133.83,1490.40 L119.61,1473.52 L105.12,1456.20 L90.37,1438.42 L75.35,1420.16 L60.08,1401.39 L44.55,1382.09 L28.77,1362.22 L12.74,1341.74 L-3.54,1320.63 L-20.06,1298.83 L-36.82,1276.30 L-53.82,1252.99 L-71.06,1228.85 L-88.54,1203.82 L-106.25,1177.82 L-124.19,1150.77 L-142.36,1122.60 L-160.76,1093.20 L-179.38,1062.46 L-198.22,1030.25 L-217.27,996.42 L-236.52,960.81 L-255.96,923.21 L-275.57,883.39 L-295.32,841.07 L-315.19,795.92 L-335.11,747.53 L-355.03,695.40 L-374.84,638.89 L-394.40,577.22 L-413.52,509.34 L-431.88,433.85 L-449.03,348.83 L-464.23,251.54 L-476.25,137.80M496.63,1690.90 L487.94,1678.40 L478.93,1665.66 L469.57,1652.67 L459.88,1639.43 L449.82,1625.92 L439.39,1612.14 L428.59,1598.07 L417.40,1583.71 L405.82,1569.02 L393.84,1554.02 L381.46,1538.67 L368.66,1522.96 L355.45,1506.88 L341.82,1490.40 L327.77,1473.52 L313.30,1456.20 L298.41,1438.42 L283.11,1420.16 L267.39,1401.39 L251.26,1382.09 L234.73,1362.22 L217.79,1341.74 L200.46,1320.63 L182.75,1298.83 L164.65,1276.30 L146.17,1252.99 L127.33,1228.85 L108.13,1203.82 L88.57,1177.82 L68.66,1150.77 L48.40,1122.60 L27.80,1093.20 L6.87,1062.46 L-14.40,1030.25 L-35.99,996.42 L-57.90,960.81 L-80.12,923.21 L-102.65,883.39 L-125.45,841.07 L-148.52,795.92 L-171.82,747.53 L-195.30,695.40 L-218.89,638.89 L-242.47,577.22 L-265.89,509.34 L-288.90,433.85 L-311.10,348.83 L-331.87,251.54 L-350.12,137.80M689.44,1690.90 L683.36,1678.40 L676.97,1665.66 L670.27,1652.67 L663.25,1639.43 L655.87,1625.92 L648.12,1612.14 L639.99,1598.07 L631.44,1583.71 L622.47,1569.02 L613.05,1554.02 L603.15,1538.67 L592.75,1522.96 L581.83,1506.88 L570.38,1490.40 L558.36,1473.52 L545.77,1456.20 L532.57,1438.42 L518.75,1420.16 L504.30,1401.39 L489.21,1382.09 L473.46,1362.22 L457.05,1341.74 L439.97,1320.63 L422.23,1298.83 L403.82,1276.30 L384.75,1252.99 L365.03,1228.85 L344.67,1203.82 L323.69,1177.82 L302.09,1150.77 L279.90,1122.60 L257.12,1093.20 L233.77,1062.46 L209.88,1030.25 L185.44,996.42 L160.48,960.81 L135.00,923.21 L109.02,883.39 L82.55,841.07 L55.60,795.92 L28.21,747.53 L0.39,695.40 L-27.81,638.89 L-56.31,577.22 L-85.01,509.34 L-113.71,433.85 L-142.11,348.83 L-169.70,251.54 L-195.58,137.80M785.85,1690.90 L781.25,1678.40 L776.40,1665.66 L771.28,1652.67 L765.88,1639.43 L760.18,1625.92 L754.16,1612.14 L747.80,1598.07 L741.07,1583.71 L733.95,1569.02 L726.41,1554.02 L718.43,1538.67 L709.98,1522.96 L701.03,1506.88 L691.54,1490.40 L681.49,1473.52 L670.84,1456.20 L659.55,1438.42 L647.60,1420.16 L634.95,1401.39 L621.56,1382.09 L607.41,1362.22 L592.47,1341.74 L576.71,1320.63 L560.11,1298.83 L542.65,1276.30 L524.32,1252.99 L505.12,1228.85 L485.04,1203.82 L464.09,1177.82 L442.28,1150.77 L419.62,1122.60 L396.14,1093.20 L371.86,1062.46 L346.79,1030.25 L320.97,996.42 L294.43,960.81 L267.17,923.21 L239.24,883.39 L210.64,841.07 L181.40,795.92 L151.53,747.53 L121.07,695.40 L90.05,638.89 L58.53,577.22 L26.59,509.34 L-5.62,433.85 L-37.84,348.83 L-69.64,251.54 L-100.22,137.80M882.26,1690.90 L879.14,1678.40 L875.83,1665.66 L872.32,1652.67 L868.59,1639.43 L864.63,1625.92 L860.41,1612.14 L855.92,1598.07 L851.15,1583.71 L846.05,1569.02 L840.62,1554.02 L834.82,1538.67 L828.63,1522.96 L822.01,1506.88 L814.92,1490.40 L807.34,1473.52 L799.22,1456.20 L790.52,1438.42 L781.19,1420.16 L771.19,1401.39 L760.46,1382.09 L748.96,1362.22 L736.62,1341.74 L723.39,1320.63 L709.22,1298.83 L694.06,1276.30 L677.84,1252.99 L660.54,1228.85 L642.10,1203.82 L622.49,1177.82 L601.70,1150.77 L579.70,1122.60 L556.51,1093.20 L532.13,1062.46 L506.59,1030.25 L479.91,996.42 L452.13,960.81 L423.30,923.21 L393.45,883.39 L362.63,841.07 L330.89,795.92 L298.25,747.53 L264.76,695.40 L230.45,638.89 L195.36,577.22 L159.58,509.34 L123.20,433.85 L86.43,348.83 L49.61,251.54 L13.42,137.80M978.66,1690.90 L976.94,1678.40 L975.09,1665.66 L973.10,1652.67 L970.97,1639.43 L968.67,1625.92 L966.20,1612.14 L963.54,1598.07 L960.68,1583.71 L957.59,1569.02 L954.27,1554.02 L950.67,1538.67 L946.79,1522.96 L942.60,1506.88 L938.06,1490.40 L933.15,1473.52 L927.82,1456.20 L922.04,1438.42 L915.77,1420.16 L908.95,1401.39 L901.53,1382.09 L893.46,1362.22 L884.66,1341.74 L875.06,1320.63 L864.60,1298.83 L853.17,1276.30 L840.71,1252.99 L827.10,1228.85 L812.25,1203.82 L796.08,1177.82 L778.47,1150.77 L759.34,1122.60 L738.61,1093.20 L716.22,1062.46 L692.12,1030.25 L666.28,996.42 L638.71,960.81 L609.44,923.21 L578.52,883.39 L546.01,841.07 L512.00,795.92 L476.55,747.53 L439.77,695.40 L401.71,638.89 L362.45,577.22 L322.06,509.34 L280.64,433.85 L238.33,348.83 L195.39,251.54 L152.35,137.80M1075.07,1690.90 L1074.60,1678.40 L1074.06,1665.66 L1073.44,1652.67 L1072.74,1639.43 L1071.95,1625.92 L1071.05,1612.14 L1070.05,1598.07 L1068.92,1583.71 L1067.66,1569.02 L1066.26,1554.02 L1064.70,1538.67 L1062.96,1522.96 L1061.03,1506.88 L1058.88,1490.40 L1056.50,1473.52 L1053.85,1456.20 L1050.91,1438.42 L1047.65,1420.16 L1044.03,1401.39 L1040.01,1382.09 L1035.53,1362.22 L1030.56,1341.74 L1025.01,1320.63 L1018.83,1298.83 L1011.93,1276.30 L1004.23,1252.99 L995.61,1228.85 L985.97,1203.82 L975.17,1177.82 L963.06,1150.77 L949.49,1122.60 L934.27,1093.20 L917.21,1062.46 L898.13,1030.25 L876.83,996.42 L853.15,960.81 L826.92,923.21 L798.05,883.39 L766.49,841.07 L732.26,795.92 L695.44,747.53 L656.16,695.40 L614.58,638.89 L570.87,577.22 L525.20,509.34 L477.73,433.85 L428.62,348.83 L378.07,251.54 L326.45,137.80M1171.48,1690.90 L1172.09,1678.40 L1172.67,1665.66 L1173.23,1652.67 L1173.75,1639.43 L1174.24,1625.92 L1174.70,1612.14 L1175.11,1598.07 L1175.47,1583.71 L1175.77,1569.02 L1176.01,1554.02 L1176.18,1538.67 L1176.28,1522.96 L1176.28,1506.88 L1176.18,1490.40 L1175.98,1473.52 L1175.64,1456.20 L1175.16,1438.42 L1174.52,1420.16 L1173.70,1401.39 L1172.66,1382.09 L1171.39,1362.22 L1169.85,1341.74 L1168.00,1320.63 L1165.80,1298.83 L1163.19,1276.30 L1160.11,1252.99 L1156.49,1228.85 L1152.25,1203.82 L1147.28,1177.82 L1141.47,1150.77 L1134.67,1122.60 L1126.71,1093.20 L1117.39,1062.46 L1106.46,1030.25 L1093.66,996.42 L1078.64,960.81 L1061.04,923.21 L1040.44,883.39 L1016.40,841.07 L988.50,795.92 L956.36,747.53 L919.73,695.40 L878.53,638.89 L832.87,577.22 L783.05,509.34 L729.46,433.85 L672.51,348.83 L612.61,251.54 L550.15,137.80M1267.89,1690.90 L1269.39,1678.40 L1270.90,1665.66 L1272.43,1652.67 L1273.97,1639.43 L1275.52,1625.92 L1277.07,1612.14 L1278.64,1598.07 L1280.21,1583.71 L1281.79,1569.02 L1283.36,1554.02 L1284.94,1538.67 L1286.51,1522.96 L1288.08,1506.88 L1289.63,1490.40 L1291.17,1473.52 L1292.68,1456.20 L1294.17,1438.42 L1295.62,1420.16 L1297.03,1401.39 L1298.38,1382.09 L1299.66,1362.22 L1300.86,1341.74 L1301.96,1320.63 L1302.94,1298.83 L1303.78,1276.30 L1304.44,1252.99 L1304.90,1228.85 L1305.10,1203.82 L1305.01,1177.82 L1304.55,1150.77 L1303.65,1122.60 L1302.21,1093.20 L1300.13,1062.46 L1297.25,1030.25 L1293.38,996.42 L1288.30,960.81 L1281.71,923.21 L1273.22,883.39 L1262.34,841.07 L1248.46,795.92 L1230.78,747.53 L1208.34,695.40 L1180.01,638.89 L1144.61,577.22 L1101.08,509.34 L1048.85,433.85 L988.06,348.83 L919.55,251.54 L844.51,137.80M1364.29,1690.90 L1366.51,1678.40 L1368.77,1665.66 L1371.08,1652.67 L1373.42,1639.43 L1375.81,1625.92 L1378.24,1612.14 L1380.72,1598.07 L1383.25,1583.71 L1385.82,1569.02 L1388.44,1554.02 L1391.11,1538.67 L1393.83,1522.96 L1396.61,1506.88 L1399.43,1490.40 L1402.31,1473.52 L1405.23,1456.20 L1408.22,1438.42 L1411.25,1420.16 L1414.34,1401.39 L1417.48,1382.09 L1420.68,1362.22 L1423.92,1341.74 L1427.20,1320.63 L1430.53,1298.83 L1433.90,1276.30 L1437.30,1252.99 L1440.72,1228.85 L1444.16,1203.82 L1447.59,1177.82 L1451.01,1150.77 L1454.38,1122.60 L1457.68,1093.20 L1460.86,1062.46 L1463.89,1030.25 L1466.68,996.42 L1469.15,960.81 L1471.17,923.21 L1472.60,883.39 L1473.21,841.07 L1472.69,795.92 L1470.62,747.53 L1466.39,695.40 L1459.11,638.89 L1447.51,577.22 L1429.69,509.34 L1402.93,433.85 L1363.62,348.83 L1307.71,251.54 L1232.57,137.80M1460.70,1690.90 L1463.48,1678.40 L1466.32,1665.66 L1469.23,1652.67 L1472.20,1639.43 L1475.23,1625.92 L1478.34,1612.14 L1481.52,1598.07 L1484.77,1583.71 L1488.10,1569.02 L1491.52,1554.02 L1495.02,1538.67 L1498.60,1522.96 L1502.28,1506.88 L1506.05,1490.40 L1509.92,1473.52 L1513.90,1456.20 L1517.98,1438.42 L1522.18,1420.16 L1526.49,1401.39 L1530.93,1382.09 L1535.50,1362.22 L1540.20,1341.74 L1545.05,1320.63 L1550.04,1298.83 L1555.18,1276.30 L1560.49,1252.99 L1565.97,1228.85 L1571.63,1203.82 L1577.47,1177.82 L1583.51,1150.77 L1589.75,1122.60 L1596.19,1093.20 L1602.84,1062.46 L1609.72,1030.25 L1616.82,996.42 L1624.13,960.81 L1631.66,923.21 L1639.38,883.39 L1647.27,841.07 L1655.27,795.92 L1663.29,747.53 L1671.19,695.40 L1678.76,638.89 L1685.60,577.22 L1691.09,509.34 L1694.14,433.85 L1692.79,348.83 L1683.39,251.54 L1658.89,137.80" stroke="#0000ff" stroke-opacity="0.5" stroke-width="1.67" stroke-dasharray="6.17,2.67"/>
<path d="M399.10,1346.35 L392.67,1355.46 L386.33,1364.46 L380.08,1373.33 L373.91,1382.09 L367.83,1390.74 L361.82,1399.28 L355.89,1407.71 L350.04,1416.03 L344.27,1424.26 L338.56,1432.39 L332.93,1440.42 L327.37,1448.35 L321.87,1456.20 L316.44,1463.95 L311.07,1471.61 L305.77,1479.19 L300.53,1486.69 L295.34,1494.10 L290.22,1501.43 L285.15,1508.68 L280.14,1515.86 L275.19,1522.96 L270.29,1529.99 L265.44,1536.94 L260.64,1543.82 L255.90,1550.63 L251.20,1557.38 L246.55,1564.06 L241.95,1570.67 L237.40,1577.22 L232.89,1583.71 L228.42,1590.13 L224.00,1596.49 L219.63,1602.80 L215.29,1609.04 L211.00,1615.23 L206.75,1621.36 L202.54,1627.44 L198.36,1633.46 L194.23,1639.43 L190.13,1645.35 L186.07,1651.21 L182.05,1657.03 L178.07,1662.79 L174.11,1668.51 L170.20,1674.18 L166.31,1679.80 L162.47,1685.37 L158.65,1690.90M589.51,1346.35 L583.34,1355.46 L577.25,1364.46 L571.25,1373.33 L565.33,1382.09 L559.50,1390.74 L553.73,1399.28 L548.05,1407.71 L542.44,1416.03 L536.90,1424.26 L531.43,1432.39 L526.03,1440.42 L520.69,1448.35 L515.42,1456.20 L510.22,1463.95 L505.07,1471.61 L499.99,1479.19 L494.97,1486.69 L490.00,1494.10 L485.09,1501.43 L480.24,1508.68 L475.44,1515.86 L470.69,1522.96 L466.00,1529.99 L461.35,1536.94 L456.76,1543.82 L452.22,1550.63 L447.72,1557.38 L443.27,1564.06 L438.86,1570.67 L434.51,1577.22 L430.19,1583.71 L425.92,1590.13 L421.69,1596.49 L417.50,1602.80 L413.35,1609.04 L409.25,1615.23 L405.18,1621.36 L401.15,1627.44 L397.16,1633.46 L393.21,1639.43 L389.29,1645.35 L385.41,1651.21 L381.56,1657.03 L377.75,1662.79 L373.97,1668.51 L370.23,1674.18 L366.51,1679.80 L362.84,1685.37 L359.19,1690.90M745.64,1346.35 L739.69,1355.46 L733.82,1364.46 L728.04,1373.33 L722.34,1382.09 L716.71,1390.74 L711.16,1399.28 L705.68,1407.71 L700.27,1416.03 L694.93,1424.26 L689.66,1432.39 L684.46,1440.42 L679.32,1448.35 L674.24,1456.20 L669.23,1463.95 L664.28,1471.61 L659.38,1479.19 L654.55,1486.69 L649.77,1494.10 L645.04,1501.43 L640.37,1508.68 L635.75,1515.86 L631.18,1522.96 L626.66,1529.99 L622.20,1536.94 L617.78,1543.82 L613.40,1550.63 L609.08,1557.38 L604.80,1564.06 L600.56,1570.67 L596.37,1577.22 L592.22,1583.71 L588.11,1590.13 L584.05,1596.49 L580.02,1602.80 L576.03,1609.04 L572.09,1615.23 L568.18,1621.36 L564.30,1627.44 L560.47,1633.46 L556.67,1639.43 L552.90,1645.35 L549.17,1651.21 L545.48,1657.03 L541.82,1662.79 L538.19,1668.51 L534.59,1674.18 L531.03,1679.80 L527.49,1685.37 L523.99,1690.90M913.28,1346.35 L907.58,1355.46 L901.95,1364.46 L896.41,1373.33 L890.94,1382.09 L885.55,1390.74 L880.23,1399.28 L874.98,1407.71 L869.80,1416.03 L864.69,1424.26 L859.64,1432.39 L854.66,1440.42 L849.74,1448.35 L844.88,1456.20 L840.08,1463.95 L835.34,1471.61 L830.66,1479.19 L826.03,1486.69 L821.45,1494.10 L816.93,1501.43 L812.46,1508.68 L808.04,1515.86 L803.68,1522.96 L799.36,1529.99 L795.08,1536.94 L790.86,1543.82 L786.68,1550.63 L782.54,1557.38 L778.45,1564.06 L774.40,1570.67 L770.40,1577.22 L766.43,1583.71 L762.51,1590.13 L758.62,1596.49 L754.78,1602.80 L750.97,1609.04 L747.20,1615.23 L743.47,1621.36 L739.77,1627.44 L736.11,1633.46 L732.48,1639.43 L728.89,1645.35 L725.33,1651.21 L721.80,1657.03 L718.31,1662.79 L714.84,1668.51 L711.41,1674.18 L708.01,1679.80 L704.64,1685.37 L701.30,1690.90M1057.64,1346.35 L1052.15,1355.46 L1046.74,1364.46 L1041.41,1373.33 L1036.16,1382.09 L1030.97,1390.74 L1025.86,1399.28 L1020.82,1407.71 L1015.84,1416.03 L1010.93,1424.26 L1006.08,1432.39 L1001.30,1440.42 L996.57,1448.35 L991.91,1456.20 L987.30,1463.95 L982.75,1471.61 L978.25,1479.19 L973.81,1486.69 L969.42,1494.10 L965.08,1501.43 L960.79,1508.68 L956.55,1515.86 L952.36,1522.96 L948.22,1529.99 L944.12,1536.94 L940.07,1543.82 L936.06,1550.63 L932.10,1557.38 L928.17,1564.06 L924.29,1570.67 L920.45,1577.22 L916.65,1583.71 L912.89,1590.13 L909.17,1596.49 L905.48,1602.80 L901.84,1609.04 L898.22,1615.23 L894.65,1621.36 L891.11,1627.44 L887.60,1633.46 L884.13,1639.43 L880.69,1645.35 L877.28,1651.21 L873.90,1657.03 L870.56,1662.79 L867.24,1668.51 L863.96,1674.18 L860.71,1679.80 L857.48,1685.37 L854.28,1690.90M1154.02,1346.35 L1148.68,1355.46 L1143.42,1364.46 L1138.24,1373.33 L1133.13,1382.09 L1128.09,1390.74 L1123.12,1399.28 L1118.21,1407.71 L1113.37,1416.03 L1108.60,1424.26 L1103.89,1432.39 L1099.24,1440.42 L1094.65,1448.35 L1090.11,1456.20 L1085.64,1463.95 L1081.22,1471.61 L1076.85,1479.19 L1072.53,1486.69 L1068.27,1494.10 L1064.06,1501.43 L1059.89,1508.68 L1055.78,1515.86 L1051.71,1522.96 L1047.68,1529.99 L1043.71,1536.94 L1039.77,1543.82 L1035.88,1550.63 L1032.04,1557.38 L1028.23,1564.06 L1024.46,1570.67 L1020.74,1577.22 L1017.05,1583.71 L1013.40,1590.13 L1009.79,1596.49 L1006.22,1602.80 L1002.68,1609.04 L999.18,1615.23 L995.71,1621.36 L992.27,1627.44 L988.87,1633.46 L985.51,1639.43 L982.17,1645.35 L978.87,1651.21 L975.59,1657.03 L972.35,1662.79 L969.14,1668.51 L965.96,1674.18 L962.80,1679.80 L959.68,1685.37 L956.58,1690.90M1286.26,1346.35 L1281.13,1355.46 L1276.08,1364.46 L1271.11,1373.33 L1266.20,1382.09 L1261.36,1390.74 L1256.59,1399.28 L1251.88,1407.71 L1247.24,1416.03 L1242.66,1424.26 L1238.14,1432.39 L1233.68,1440.42 L1229.28,1448.35 L1224.93,1456.20 L1220.64,1463.95 L1216.40,1471.61 L1212.21,1479.19 L1208.07,1486.69 L1203.99,1494.10 L1199.95,1501.43 L1195.96,1508.68 L1192.02,1515.86 L1188.12,1522.96 L1184.27,1529.99 L1180.46,1536.94 L1176.69,1543.82 L1172.97,1550.63 L1169.29,1557.38 L1165.64,1564.06 L1162.04,1570.67 L1158.47,1577.22 L1154.95,1583.71 L1151.45,1590.13 L1148.00,1596.49 L1144.58,1602.80 L1141.20,1609.04 L1137.85,1615.23 L1134.53,1621.36 L1131.25,1627.44 L1128.00,1633.46 L1124.78,1639.43 L1121.59,1645.35 L1118.43,1651.21 L1115.31,1657.03 L1112.21,1662.79 L1109.14,1668.51 L1106.10,1674.18 L1103.09,1679.80 L1100.10,1685.37 L1097.15,1690.90M1404.99,1346.35 L1400.06,1355.46 L1395.20,1364.46 L1390.41,1373.33 L1385.69,1382.09 L1381.04,1390.74 L1376.45,1399.28 L1371.93,1407.71 L1367.46,1416.03 L1363.06,1424.26 L1358.72,1432.39 L1354.43,1440.42 L1350.20,1448.35 L1346.03,1456.20 L1341.90,1463.95 L1337.83,1471.61 L1333.81,1479.19 L1329.84,1486.69 L1325.92,1494.10 L1322.04,1501.43 L1318.22,1508.68 L1314.43,1515.86 L1310.69,1522.96 L1307.00,1529.99 L1303.34,1536.94 L1299.73,1543.82 L1296.16,1550.63 L1292.63,1557.38 L1289.14,1564.06 L1285.68,1570.67 L1282.26,1577.22 L1278.88,1583.71 L1275.54,1590.13 L1272.23,1596.49 L1268.95,1602.80 L1265.71,1609.04 L1262.50,1615.23 L1259.33,1621.36 L1256.18,1627.44 L1253.07,1633.46 L1249.99,1639.43 L1246.94,1645.35 L1243.92,1651.21 L1240.92,1657.03 L1237.96,1662.79 L1235.02,1668.51 L1232.11,1674.18 L1229.23,1679.80 L1226.38,1685.37 L1223.55,1690.90M1491.63,1346.35 L1486.85,1355.46 L1482.13,1364.46 L1477.48,1373.33 L1472.90,1382.09 L1468.39,1390.74 L1463.94,1399.28 L1459.55,1407.71 L1455.22,1416.03 L1450.95,1424.26 L1446.74,1432.39 L1442.59,1440.42 L1438.48,1448.35 L1434.44,1456.20 L1430.44,1463.95 L1426.49,1471.61 L1422.60,1479.19 L1418.75,1486.69 L1414.95,1494.10 L1411.20,1501.43 L1407.49,1508.68 L1403.82,1515.86 L1400.20,1522.96 L1396.62,1529.99 L1393.09,1536.94 L1389.59,1543.82 L1386.13,1550.63 L1382.71,1557.38 L1379.33,1564.06 L1375.99,1570.67 L1372.68,1577.22 L1369.41,1583.71 L1366.17,1590.13 L1362.97,1596.49 L1359.80,1602.80 L1356.67,1609.04 L1353.56,1615.23 L1350.49,1621.36 L1347.45,1627.44 L1344.44,1633.46 L1341.46,1639.43 L1338.51,1645.35 L1335.59,1651.21 L1332.70,1657.03 L1329.84,1662.79 L1327.00,1668.51 L1324.19,1674.18 L1321.41,1679.80 L1318.65,1685.37 L1315.91,1690.90" stroke="#008000" stroke-opacity="0.55" stroke-width="1.67" stroke-dasharray="6.17,2.67"/>
<path d="M689.44,1690.9L2242.54,137.8" stroke="#0000ff" stroke-opacity="0.4" stroke-width="4.17" stroke-dasharray="15.42,6.67"/>
<path d="M832.20,130.00 L729.90,237.00 L715.70,334.20 L702.10,426.80 L699.90,513.40 L714.90,594.90 L747.60,671.70 L795.00,744.60 L838.80,811.90 L878.30,875.90 L917.50,935.80 L953.80,992.20 L971.20,1045.30 L963.10,1094.30 L963.30,1143.40 L983.00,1188.30 L996.60,1230.50 L1007.50,1271.40 L1019.70,1308.20 L1038.80,1343.60 L1030.20,1376.30 L1029.10,1406.90 L1039.50,1436.90 L1066.00,1464.00 L1086.70,1487.60 L1107.40,1511.30 L1133.00,1533.90 L1117.00,1554.00 L1076.80,1573.00 L1071.80,1590.20 L1081.50,1607.20 L1085.80,1621.00 L1087.00,1635.00 L1089.00,1646.40 L1092.00,1657.00 L1095.40,1667.00 L1094.40,1681.80 L1087.00,1690.70 L1083.00,1696.00" stroke="#ff0000" stroke-width="6.25" stroke-linejoin="round" stroke-linecap="butt"/>
<path d="M568.30,130.00 L537.40,237.00 L494.60,334.20 L499.20,426.80 L553.10,513.40 L578.70,594.90 L553.70,672.20 L496.50,744.60 L476.60,811.90 L488.00,875.90 L435.70,935.80 L337.70,991.80 L520.20,1045.80 L754.40,1094.80 L824.40,1143.00 L844.80,1188.30 L893.80,1229.40 L950.30,1270.00 L975.60,1308.20 L976.80,1343.30 L998.70,1376.30 L1006.50,1406.90 L1014.30,1436.90 L989.20,1463.50 L968.70,1488.80 L962.60,1512.20 L789.00,1533.90 L832.00,1554.60 L1012.30,1573.00 L1042.90,1590.20 L1046.20,1607.00 L1050.20,1621.00 L1057.20,1634.80 L1058.70,1646.50 L1053.30,1657.00 L1057.30,1667.10 L1073.50,1675.60 L1078.00,1682.00 L1080.50,1690.70 L1081.50,1696.00" stroke="#008000" stroke-width="6.25" stroke-linejoin="round"/>
<path d="M316.22,133.80 L317.88,137.80 L319.54,141.80 L321.22,145.80 L322.91,149.80 L324.60,153.80 L326.31,157.80 L328.02,161.80 L329.75,165.80 L331.48,169.80 L333.23,173.80 L334.98,177.80 L336.74,181.80 L338.52,185.80 L340.30,189.80 L342.09,193.80 L343.90,197.80 L345.71,201.80 L347.53,205.80 L349.36,209.80 L351.20,213.80 L353.06,217.80 L354.92,221.80 L356.79,225.80 L358.67,229.80 L360.56,233.80 L362.46,237.80 L364.37,241.80 L366.30,245.80 L368.23,249.80 L370.17,253.80 L372.12,257.80 L374.08,261.80 L376.05,265.80 L378.03,269.80 L380.02,273.80 L382.02,277.80 L384.04,281.80 L386.06,285.80 L388.09,289.80 L390.13,293.80 L392.18,297.80 L394.24,301.80 L396.31,305.80 L398.40,309.80 L400.49,313.80 L402.59,317.80 L404.70,321.80 L406.83,325.80 L408.96,329.80 L411.10,333.80 L413.26,337.80 L415.42,341.80 L417.59,345.80 L419.78,349.80 L421.97,353.80 L424.17,357.80 L426.39,361.80 L428.61,365.80 L430.85,369.80 L433.09,373.80 L435.35,377.80 L437.62,381.80 L439.89,385.80 L442.18,389.80 L444.48,393.80 L446.78,397.80 L449.10,401.80 L451.43,405.80 L453.76,409.80 L456.11,413.80 L458.47,417.80 L460.84,421.80 L463.22,425.80 L465.61,429.80 L468.01,433.80 L470.42,437.80 L472.84,441.80 L475.27,445.80 L477.71,449.80 L480.16,453.80 L482.62,457.80 L485.09,461.80 L487.57,465.80 L490.06,469.80 L492.56,473.80 L495.07,477.80 L497.59,481.80 L500.12,485.80 L502.67,489.80 L505.22,493.80 L507.78,497.80 L510.35,501.80 L512.93,505.80 L515.52,509.80 L518.12,513.80 L520.73,517.80 L523.36,521.80 L525.99,525.80 L528.63,529.80 L531.28,533.80 L533.94,537.80 L536.61,541.80 L539.28,545.80 L541.97,549.80 L544.67,553.80 L547.38,557.80 L550.09,561.80 L552.82,565.80 L555.55,569.80 L558.30,573.80 L561.05,577.80 L563.81,581.80 L566.59,585.80 L569.37,589.80 L572.16,593.80 L574.95,597.80 L577.76,601.80 L580.57,605.80 L583.40,609.80 L586.23,613.80 L589.07,617.80 L591.92,621.80 L594.77,625.80 L597.64,629.80 L600.51,633.80 L603.39,637.80 L606.28,641.80 L609.17,645.80 L612.08,649.80 L614.99,653.80 L617.90,657.80 L620.83,661.80 L623.76,665.80 L626.70,669.80 L629.64,673.80 L632.59,677.80 L635.55,681.80 L638.51,685.80 L641.48,689.80 L644.45,693.80 L647.43,697.80 L650.42,701.80 L653.41,705.80 L656.41,709.80 L659.41,713.80 L662.41,717.80 L665.42,721.80 L668.43,725.80 L671.45,729.80 L674.47,733.80 L677.50,737.80 L680.53,741.80 L683.56,745.80 L686.59,749.80 L689.63,753.80 L692.67,757.80 L695.71,761.80 L698.76,765.80 L701.80,769.80 L704.85,773.80 L707.90,777.80 L710.95,781.80 L713.99,785.80 L717.04,789.80 L720.09,793.80 L723.14,797.80 L726.19,801.80 L729.24,805.80 L732.29,809.80 L735.33,813.80 L738.37,817.80 L741.41,821.80 L744.45,825.80 L747.49,829.80 L750.52,833.80 L753.55,837.80 L756.58,841.80 L759.60,845.80 L762.62,849.80 L765.63,853.80 L768.64,857.80 L771.64,861.80 L774.64,865.80 L777.63,869.80 L780.61,873.80 L783.59,877.80 L786.56,881.80 L789.52,885.80 L792.48,889.80 L795.42,893.80 L798.36,897.80 L801.29,901.80 L804.21,905.80 L807.13,909.80 L810.03,913.80 L812.92,917.80 L815.80,921.80 L818.67,925.80 L821.53,929.80 L824.38,933.80 L827.22,937.80 L830.04,941.80 L832.85,945.80 L835.65,949.80 L838.44,953.80 L841.21,957.80 L843.97,961.80 L846.72,965.80 L849.45,969.80 L852.17,973.80 L854.87,977.80 L857.56,981.80 L860.23,985.80 L862.89,989.80 L865.53,993.80 L868.16,997.80 L870.77,1001.80 L873.36,1005.80 L875.94,1009.80 L878.50,1013.80 L881.05,1017.80 L883.57,1021.80 L886.08,1025.80 L888.57,1029.80 L891.05,1033.80 L893.50,1037.80 L895.94,1041.80 L898.36,1045.80 L900.76,1049.80 L903.14,1053.80 L905.51,1057.80 L907.85,1061.80 L910.18,1065.80 L912.48,1069.80 L914.77,1073.80 L917.04,1077.80 L919.29,1081.80 L921.52,1085.80 L923.73,1089.80 L925.92,1093.80 L928.09,1097.80 L930.24,1101.80 L932.37,1105.80 L934.49,1109.80 L936.58,1113.80 L938.65,1117.80 L940.70,1121.80 L942.74,1125.80 L944.75,1129.80 L946.74,1133.80 L948.71,1137.80 L950.67,1141.80 L952.60,1145.80 L954.51,1149.80 L956.40,1153.80 L958.28,1157.80 L960.13,1161.80 L961.97,1165.80 L963.78,1169.80 L965.57,1173.80 L967.35,1177.80 L969.10,1181.80 L970.84,1185.80 L972.56,1189.80 L974.25,1193.80 L975.93,1197.80 L977.59,1201.80 L979.23,1205.80 L980.85,1209.80 L982.45,1213.80 L984.03,1217.80 L985.59,1221.80 L987.14,1225.80 L988.66,1229.80 L990.17,1233.80 L991.66,1237.80 L993.13,1241.80 L994.58,1245.80 L996.01,1249.80 L997.43,1253.80 L998.83,1257.80 L1000.21,1261.80 L1001.57,1265.80 L1002.92,1269.80 L1004.25,1273.80 L1005.56,1277.80 L1006.85,1281.80 L1008.12,1285.80 L1009.38,1289.80 L1010.63,1293.80 L1011.85,1297.80 L1013.06,1301.80 L1014.25,1305.80 L1015.43,1309.80 L1016.59,1313.80 L1017.73,1317.80 L1018.86,1321.80 L1019.97,1325.80 L1021.07,1329.80 L1022.15,1333.80 L1023.22,1337.80 L1024.27,1341.80 L1025.30,1345.80 L1026.32,1349.80 L1027.33,1353.80 L1028.32,1357.80 L1029.29,1361.80 L1030.26,1365.80 L1031.20,1369.80 L1032.13,1373.80 L1033.05,1377.80 L1033.96,1381.80 L1034.85,1385.80 L1035.72,1389.80 L1036.59,1393.80 L1037.44,1397.80 L1038.27,1401.80 L1039.10,1405.80 L1039.91,1409.80 L1040.70,1413.80 L1041.49,1417.80 L1042.26,1421.80 L1043.02,1425.80 L1043.77,1429.80 L1044.50,1433.80 L1045.22,1437.80 L1045.93,1441.80 L1046.63,1445.80 L1047.32,1449.80 L1047.99,1453.80 L1048.65,1457.80 L1049.30,1461.80 L1049.94,1465.80 L1050.57,1469.80 L1051.19,1473.80 L1051.79,1477.80 L1052.39,1481.80 L1052.97,1485.80 L1053.55,1489.80 L1054.11,1493.80 L1054.66,1497.80 L1055.20,1501.80 L1055.74,1505.80 L1056.26,1509.80 L1056.77,1513.80 L1057.27,1517.80 L1057.76,1521.80 L1058.24,1525.80 L1058.72,1529.80 L1059.18,1533.80 L1059.63,1537.80 L1060.08,1541.80 L1060.51,1545.80 L1060.94,1549.80 L1061.36,1553.80 L1061.76,1557.80 L1062.16,1561.80 L1062.55,1565.80 L1062.93,1569.80 L1063.31,1573.80 L1063.67,1577.80 L1064.03,1581.80 L1064.37,1585.80 L1064.71,1589.80 L1065.04,1593.80 L1065.37,1597.80 L1065.68,1601.80 L1065.99,1605.80 L1066.29,1609.80 L1066.58,1613.80 L1066.87,1617.80 L1067.14,1621.80 L1067.41,1625.80 L1067.68,1629.80 L1067.93,1633.80 L1068.18,1637.80 L1068.42,1641.80 L1068.65,1645.80 L1068.88,1649.80 L1069.10,1653.80 L1069.31,1657.80 L1069.52,1661.80 L1069.72,1665.80 L1069.91,1669.80 L1070.10,1673.80 L1070.28,1677.80 L1070.46,1681.80 L1070.62,1685.80 L1070.79,1689.80 L1070.95,1693.90" stroke="#000" stroke-width="4.17" stroke-linejoin="round"/>
<path d="M1093.90,1682.30 L1081.69,1669.00 L1081.57,1665.80 L1081.42,1661.80 L1081.26,1657.80 L1081.10,1653.80 L1080.92,1649.80 L1080.74,1645.80 L1080.56,1641.80 L1080.37,1637.80 L1080.17,1633.80 L1079.96,1629.80 L1079.75,1625.80 L1079.53,1621.80 L1079.30,1617.80 L1079.07,1613.80 L1078.83,1609.80 L1078.58,1605.80 L1078.33,1601.80 L1078.07,1597.80 L1077.80,1593.80 L1077.52,1589.80 L1077.23,1585.80 L1076.94,1581.80 L1076.64,1577.80 L1076.33,1573.80 L1076.01,1569.80 L1075.69,1565.80 L1075.36,1561.80 L1075.02,1557.80 L1074.67,1553.80 L1074.31,1549.80 L1073.94,1545.80 L1073.57,1541.80 L1073.18,1537.80 L1072.79,1533.80 L1072.39,1529.80 L1071.97,1525.80 L1071.55,1521.80 L1071.12,1517.80 L1070.69,1513.80 L1070.24,1509.80 L1069.78,1505.80 L1069.31,1501.80 L1068.84,1497.80 L1068.35,1493.80 L1067.85,1489.80 L1067.35,1485.80 L1066.83,1481.80 L1066.30,1477.80 L1065.76,1473.80 L1065.21,1469.80 L1064.66,1465.80 L1064.09,1461.80 L1063.51,1457.80 L1062.91,1453.80 L1062.31,1449.80 L1061.70,1445.80 L1061.07,1441.80 L1060.44,1437.80 L1059.79,1433.80 L1059.13,1429.80 L1058.46,1425.80 L1057.77,1421.80 L1057.08,1417.80 L1056.37,1413.80 L1055.65,1409.80 L1054.92,1405.80 L1054.18,1401.80 L1053.42,1397.80 L1052.65,1393.80 L1051.87,1389.80 L1051.07,1385.80 L1050.26,1381.80 L1049.44,1377.80 L1048.60,1373.80 L1047.76,1369.80 L1046.89,1365.80 L1046.02,1361.80 L1045.13,1357.80 L1044.22,1353.80 L1043.30,1349.80 L1042.37,1345.80 L1041.43,1341.80 L1040.46,1337.80 L1039.49,1333.80 L1038.50,1329.80 L1037.49,1325.80 L1036.47,1321.80 L1035.43,1317.80 L1034.38,1313.80 L1033.32,1309.80 L1032.23,1305.80 L1031.14,1301.80 L1030.02,1297.80 L1028.89,1293.80 L1027.75,1289.80 L1026.58,1285.80 L1025.41,1281.80 L1024.21,1277.80 L1023.00,1273.80 L1021.77,1269.80 L1020.53,1265.80 L1019.26,1261.80 L1017.98,1257.80 L1016.69,1253.80 L1015.37,1249.80 L1014.04,1245.80 L1012.69,1241.80 L1011.33,1237.80 L1009.94,1233.80 L1008.54,1229.80 L1007.12,1225.80 L1005.68,1221.80 L1004.22,1217.80 L1002.75,1213.80 L1001.26,1209.80 L999.74,1205.80 L998.21,1201.80 L996.66,1197.80 L995.09,1193.80 L993.51,1189.80 L991.90,1185.80 L990.27,1181.80 L988.63,1177.80 L986.97,1173.80 L985.28,1169.80 L983.58,1165.80 L981.86,1161.80 L980.11,1157.80 L978.35,1153.80 L976.57,1149.80 L974.77,1145.80 L972.95,1141.80 L971.11,1137.80 L969.25,1133.80 L967.37,1129.80 L965.47,1125.80 L963.55,1121.80 L961.61,1117.80 L959.65,1113.80 L957.67,1109.80 L955.67,1105.80 L953.65,1101.80 L951.61,1097.80 L949.55,1093.80 L947.47,1089.80 L945.37,1085.80 L943.25,1081.80 L941.11,1077.80 L938.95,1073.80 L936.77,1069.80 L934.57,1065.80 L932.35,1061.80 L930.11,1057.80 L927.86,1053.80 L925.58,1049.80 L923.28,1045.80 L920.97,1041.80 L918.64,1037.80 L916.28,1033.80 L913.91,1029.80 L911.52,1025.80 L909.11,1021.80 L906.69,1017.80 L904.24,1013.80 L901.78,1009.80 L899.30,1005.80 L896.80,1001.80 L894.29,997.80 L891.75,993.80 L889.20,989.80 L886.64,985.80 L884.05,981.80 L881.45,977.80 L878.84,973.80 L876.20,969.80 L873.56,965.80 L870.89,961.80 L868.22,957.80 L865.52,953.80 L862.81,949.80 L860.09,945.80 L857.36,941.80 L854.61,937.80 L851.84,933.80 L849.07,929.80 L846.28,925.80 L843.47,921.80 L840.66,917.80 L837.83,913.80 L834.99,909.80 L832.14,905.80 L829.28,901.80 L826.41,897.80 L823.53,893.80 L820.63,889.80 L817.73,885.80 L814.82,881.80 L811.90,877.80 L808.97,873.80 L806.03,869.80 L803.09,865.80 L800.13,861.80 L797.17,857.80 L794.20,853.80 L791.23,849.80 L788.25,845.80 L785.26,841.80 L782.27,837.80 L779.27,833.80 L776.26,829.80 L773.26,825.80 L770.24,821.80 L767.23,817.80 L764.21,813.80 L761.18,809.80 L758.16,805.80 L755.13,801.80 L752.09,797.80 L749.06,793.80 L746.02,789.80 L742.99,785.80 L739.95,781.80 L736.91,777.80 L733.87,773.80 L730.83,769.80 L727.79,765.80 L724.75,761.80 L721.71,757.80 L718.67,753.80 L715.63,749.80 L712.59,745.80 L709.56,741.80 L706.53,737.80 L703.50,733.80 L700.47,729.80 L697.44,725.80 L694.42,721.80 L691.40,717.80 L688.38,713.80 L685.37,709.80 L682.36,705.80 L679.36,701.80 L676.36,697.80 L673.36,693.80 L670.37,689.80 L667.38,685.80 L664.40,681.80 L661.42,677.80 L658.45,673.80 L655.49,669.80 L652.53,665.80 L649.57,661.80 L646.63,657.80 L643.69,653.80 L640.75,649.80 L637.82,645.80 L634.90,641.80 L631.99,637.80 L629.08,633.80 L626.18,629.80 L623.28,625.80 L620.40,621.80 L617.52,617.80 L614.65,613.80 L611.79,609.80 L608.93,605.80 L606.08,601.80 L603.24,597.80 L600.41,593.80 L597.59,589.80 L594.78,585.80 L591.97,581.80 L589.17,577.80 L586.38,573.80 L583.60,569.80 L580.83,565.80 L578.07,561.80 L575.32,557.80 L572.57,553.80 L569.84,549.80 L567.11,545.80 L564.40,541.80 L561.69,537.80 L558.99,533.80 L556.30,529.80 L553.62,525.80 L550.95,521.80 L548.29,517.80 L545.64,513.80 L543.00,509.80 L540.37,505.80 L537.75,501.80 L535.14,497.80 L532.54,493.80 L529.94,489.80 L527.36,485.80 L524.79,481.80 L522.23,477.80 L519.68,473.80 L517.13,469.80 L514.60,465.80 L512.08,461.80 L509.57,457.80 L507.06,453.80 L504.57,449.80 L502.09,445.80 L499.62,441.80 L497.16,437.80 L494.71,433.80 L492.26,429.80 L489.83,425.80 L487.41,421.80 L485.00,417.80 L482.60,413.80 L480.21,409.80 L477.83,405.80 L475.46,401.80 L473.10,397.80 L470.75,393.80 L468.41,389.80 L466.08,385.80 L463.77,381.80 L461.46,377.80 L459.16,373.80 L456.87,369.80 L454.59,365.80 L452.33,361.80 L450.07,357.80 L447.82,353.80 L445.59,349.80 L443.36,345.80 L441.14,341.80 L438.94,337.80 L436.74,333.80 L434.56,329.80 L432.38,325.80 L430.22,321.80 L428.06,317.80 L425.92,313.80 L423.78,309.80 L421.66,305.80 L419.55,301.80 L417.44,297.80 L415.35,293.80 L413.26,289.80 L411.19,285.80 L409.13,281.80 L407.07,277.80 L405.03,273.80 L403.00,269.80 L400.98,265.80 L398.96,261.80 L396.96,257.80 L394.97,253.80 L392.99,249.80 L391.01,245.80 L389.05,241.80 L387.10,237.80 L385.16,233.80 L383.22,229.80 L381.30,225.80 L379.39,221.80 L377.48,217.80 L375.59,213.80 L373.71,209.80 L371.84,205.80 L369.97,201.80 L368.12,197.80 L366.28,193.80 L364.44,189.80 L362.62,185.80 L360.80,181.80 L359.00,177.80 L357.21,173.80 L355.42,169.80 L353.65,165.80 L351.88,161.80 L350.13,157.80 L348.38,153.80 L346.64,149.80 L344.92,145.80 L343.20,141.80 L341.49,137.80 L339.80,133.80" stroke="#000" stroke-width="3.12" stroke-dasharray="11.56,5.00" stroke-linejoin="round"/>
</g>
<rect x="120.7" y="149.0" width="257.9" height="218.8" rx="4.2" fill="#fff" fill-opacity="0.8" stroke="#ccc" stroke-opacity="0.8" stroke-width="2.08"/>
<rect x="129.8" y="158.40" width="41.60" height="14.6" fill="#00ffff" fill-opacity="0.12" stroke="#00ffff" stroke-opacity="0.12" stroke-width="2.08"/>
<text y="173.50" font-size="21.88" fill="#000" stroke="#000" stroke-width="0.25"><tspan x="188.00" textLength="40.01" lengthAdjust="spacingAndGlyphs">Hail</tspan><tspan x="234.63" textLength="75.41" lengthAdjust="spacingAndGlyphs">Growth</tspan><tspan x="316.66" textLength="53.04" lengthAdjust="spacingAndGlyphs">Zone</tspan></text>
<path d="M129.8,196.30H171.4" stroke="#f00" stroke-width="6.25" stroke-linecap="square"/>
<text y="203.60" font-size="21.88" fill="#000" stroke="#000" stroke-width="0.25"><tspan x="188.00" textLength="151.47" lengthAdjust="spacingAndGlyphs">TEMPERATURE</tspan></text>
<path d="M129.8,226.70H171.4" stroke="#008000" stroke-width="6.25" stroke-linecap="square"/>
<text y="234.00" font-size="21.88" fill="#000" stroke="#000" stroke-width="0.25"><tspan x="188.00" textLength="113.22" lengthAdjust="spacingAndGlyphs">DEWPOINT</tspan></text>
<path d="M129.8,257.00H171.4" stroke="#000" stroke-width="4.17" stroke-linecap="square"/>
<text y="264.30" font-size="21.88" fill="#000" stroke="#000" stroke-width="0.25"><tspan x="188.00" textLength="27.52" lengthAdjust="spacingAndGlyphs">SB</tspan><tspan x="222.14" textLength="78.24" lengthAdjust="spacingAndGlyphs">PARCEL</tspan><tspan x="307.00" textLength="52.26" lengthAdjust="spacingAndGlyphs">PATH</tspan></text>
<path d="M129.8,287.40H171.4" stroke="#000" stroke-width="3.125" stroke-dasharray="11.56,5"/>
<text y="294.70" font-size="21.88" fill="#000" stroke="#000" stroke-width="0.25"><tspan x="188.00" textLength="33.22" lengthAdjust="spacingAndGlyphs">MU</tspan><tspan x="227.85" textLength="78.24" lengthAdjust="spacingAndGlyphs">PARCEL</tspan><tspan x="312.71" textLength="52.26" lengthAdjust="spacingAndGlyphs">PATH</tspan></text>
<rect x="129.8" y="310.00" width="41.60" height="14.6" fill="#d62728" fill-opacity="0.2"/>
<text y="325.10" font-size="21.88" fill="#000" stroke="#000" stroke-width="0.25"><tspan x="188.00" textLength="81.68" lengthAdjust="spacingAndGlyphs">SBCAPE</tspan></text>
<rect x="129.8" y="340.20" width="41.60" height="14.6" fill="#1f77b4" fill-opacity="0.2"/>
<text y="355.30" font-size="21.88" fill="#000" stroke="#000" stroke-width="0.25"><tspan x="188.00" textLength="63.43" lengthAdjust="spacingAndGlyphs">SBCIN</tspan></text>
<rect x="111" y="138" width="1350" height="1553" fill="none" stroke="#000" stroke-width="2"/>
<path d="M111.0,137.80h-7.3M111.0,605.33h-7.3M111.0,878.82h-7.3M111.0,1072.86h-7.3M111.0,1223.37h-7.3M111.0,1346.35h-7.3M111.0,1450.32h-7.3M111.0,1540.39h-7.3M111.0,1619.83h-7.3M111.0,1690.90h-7.3M111.00,1690.9v7.3M303.81,1690.9v7.3M496.63,1690.9v7.3M689.44,1690.9v7.3M882.26,1690.9v7.3M1075.07,1690.9v7.3M1267.89,1690.9v7.3M1460.70,1690.9v7.3" stroke="#000" stroke-width="1.67" fill="none"/>
<text y="146.10" font-size="21.88" fill="#000" stroke="#000" stroke-width="0.25"><tspan x="56.24" textLength="39.76" lengthAdjust="spacingAndGlyphs">100</tspan></text>
<text y="613.63" font-size="21.88" fill="#000" stroke="#000" stroke-width="0.25"><tspan x="56.24" textLength="39.76" lengthAdjust="spacingAndGlyphs">200</tspan></text>
<text y="887.12" font-size="21.88" fill="#000" stroke="#000" stroke-width="0.25"><tspan x="56.24" textLength="39.76" lengthAdjust="spacingAndGlyphs">300</tspan></text>
<text y="1081.16" font-size="21.88" fill="#000" stroke="#000" stroke-width="0.25"><tspan x="56.24" textLength="39.76" lengthAdjust="spacingAndGlyphs">400</tspan></text>
<text y="1231.67" font-size="21.88" fill="#000" stroke="#000" stroke-width="0.25"><tspan x="56.24" textLength="39.76" lengthAdjust="spacingAndGlyphs">500</tspan></text>
<text y="1354.65" font-size="21.88" fill="#000" stroke="#000" stroke-width="0.25"><tspan x="56.24" textLength="39.76" lengthAdjust="spacingAndGlyphs">600</tspan></text>
<text y="1458.62" font-size="21.88" fill="#000" stroke="#000" stroke-width="0.25"><tspan x="56.24" textLength="39.76" lengthAdjust="spacingAndGlyphs">700</tspan></text>
<text y="1548.69" font-size="21.88" fill="#000" stroke="#000" stroke-width="0.25"><tspan x="56.24" textLength="39.76" lengthAdjust="spacingAndGlyphs">800</tspan></text>
<text y="1628.13" font-size="21.88" fill="#000" stroke="#000" stroke-width="0.25"><tspan x="56.24" textLength="39.76" lengthAdjust="spacingAndGlyphs">900</tspan></text>
<text y="1699.20" font-size="21.88" fill="#000" stroke="#000" stroke-width="0.25"><tspan x="42.98" textLength="53.02" lengthAdjust="spacingAndGlyphs">1000</tspan></text>
<text y="1722.30" font-size="21.88" fill="#000" stroke="#000" stroke-width="0.25"><tspan x="89.02" textLength="43.97" lengthAdjust="spacingAndGlyphs">−30</tspan></text>
<text y="1722.30" font-size="21.88" fill="#000" stroke="#000" stroke-width="0.25"><tspan x="281.83" textLength="43.97" lengthAdjust="spacingAndGlyphs">−20</tspan></text>
<text y="1722.30" font-size="21.88" fill="#000" stroke="#000" stroke-width="0.25"><tspan x="474.65" textLength="43.97" lengthAdjust="spacingAndGlyphs">−10</tspan></text>
<text y="1722.30" font-size="21.88" fill="#000" stroke="#000" stroke-width="0.25"><tspan x="682.82">0</tspan></text>
<text y="1722.30" font-size="21.88" fill="#000" stroke="#000" stroke-width="0.25"><tspan x="869.00" textLength="26.51" lengthAdjust="spacingAndGlyphs">10</tspan></text>
<text y="1722.30" font-size="21.88" fill="#000" stroke="#000" stroke-width="0.25"><tspan x="1061.82" textLength="26.51" lengthAdjust="spacingAndGlyphs">20</tspan></text>
<text y="1722.30" font-size="21.88" fill="#000" stroke="#000" stroke-width="0.25"><tspan x="1254.63" textLength="26.51" lengthAdjust="spacingAndGlyphs">30</tspan></text>
<text y="1722.30" font-size="21.88" fill="#000" stroke="#000" stroke-width="0.25"><tspan x="1447.45" textLength="26.51" lengthAdjust="spacingAndGlyphs">40</tspan></text>
<text y="1751.20" font-size="21.88" font-weight="bold" fill="#000" stroke="#000" stroke-width="0.46"><tspan x="674.69" textLength="170.62" lengthAdjust="spacingAndGlyphs">TEMPERATURE</tspan><tspan x="852.56" textLength="44.75" lengthAdjust="spacingAndGlyphs">(°C)</tspan></text>
<text y="0.00" font-size="21.88" font-weight="bold" fill="#000" stroke="#000" stroke-width="0.46" transform="translate(29.40 916.00) rotate(-90)"><tspan x="-97.51" textLength="121.81" lengthAdjust="spacingAndGlyphs">PRESSURE</tspan><tspan x="31.55" textLength="65.96" lengthAdjust="spacingAndGlyphs">(HPA)</tspan></text>
<path d="M1460.70,136.60 L1410.48,127.50 L1400.56,146.45 L1410.48,127.50 L1416.75,128.64 L1406.84,147.59 L1416.75,128.64 L1423.03,129.78 L1413.11,148.73 L1423.03,129.78 L1429.31,130.91 L1419.39,149.86 L1429.31,130.91 L1435.59,132.05 L1430.63,141.53 L1435.59,132.05ZM1460.70,238.10 L1410.04,231.90 L1414.06,251.52 L1422.70,233.45ZM1460.70,335.50 L1409.86,331.00 L1414.54,350.48 L1422.57,332.12 L1428.92,332.69 L1424.85,342.57 L1428.92,332.69ZM1460.70,426.30 L1409.69,428.00 L1416.70,446.76 L1422.44,427.57 L1428.82,427.36 L1423.12,447.98 L1428.82,427.36 L1435.19,427.15 L1432.34,437.46 L1435.19,427.15ZM1460.70,513.80 L1409.71,516.20 L1416.98,534.87 L1422.46,515.60 L1428.83,515.30 L1423.42,535.99 L1428.83,515.30 L1435.21,515.00 L1429.79,535.69 L1435.21,515.00 L1441.58,514.70 L1438.87,525.05 L1441.58,514.70ZM1460.70,595.50 L1409.69,597.20 L1416.70,615.96 L1422.44,596.77 L1428.82,596.56 L1423.12,617.18 L1428.82,596.56 L1435.19,596.35 L1429.50,616.97 L1435.19,596.35 L1441.57,596.14 L1435.87,616.76 L1441.57,596.14ZM1460.70,672.50 L1409.66,672.50 L1416.04,691.49 L1422.42,672.50 L1428.80,672.50 L1422.42,692.92 L1428.80,672.50 L1435.18,672.50 L1428.80,692.92 L1435.18,672.50 L1441.56,672.50 L1435.18,692.92 L1441.56,672.50ZM1460.70,744.20 L1409.66,744.20 L1416.04,763.19 L1422.42,744.20 L1428.80,744.20 L1422.42,764.62 L1428.80,744.20 L1435.18,744.20 L1428.80,764.62 L1435.18,744.20 L1441.56,744.20 L1438.37,754.41 L1441.56,744.20ZM1460.70,812.00 L1409.66,811.50 L1415.85,830.55 L1422.42,811.62 L1428.80,811.69 L1422.22,832.04 L1428.80,811.69 L1435.18,811.75 L1428.60,832.10 L1435.18,811.75 L1441.56,811.81 L1438.27,821.99 L1441.56,811.81ZM1460.70,875.60 L1409.75,872.60 L1415.00,891.93 L1422.48,873.35 L1428.85,873.73 L1421.28,893.73 L1428.85,873.73 L1435.22,874.10 L1427.65,894.11 L1435.22,874.10ZM1460.70,935.40 L1409.82,931.40 L1414.69,950.83 L1422.54,932.40 L1428.90,932.90 L1420.94,952.75 L1428.90,932.90 L1435.26,933.40 L1431.28,943.33 L1435.26,933.40ZM1460.70,991.90 L1409.97,986.30 L1414.22,1005.87 L1422.65,987.70 L1428.99,988.40 L1420.41,1007.99 L1428.99,988.40 L1435.33,989.10 L1431.04,998.90 L1435.33,989.10ZM1460.70,1044.60 L1409.97,1039.00 L1414.22,1058.57 L1422.65,1040.40 L1428.99,1041.10 L1420.41,1060.69 L1428.99,1041.10ZM1460.70,1094.80 L1410.26,1087.00 L1413.66,1106.74 L1422.87,1088.95ZM1460.70,1142.60 L1410.75,1132.10 L1400.31,1150.77 L1410.75,1132.10 L1416.99,1133.41 L1406.55,1152.08 L1416.99,1133.41 L1423.24,1134.72 L1412.79,1153.39 L1423.24,1134.72 L1429.48,1136.04 L1419.04,1154.70 L1429.48,1136.04ZM1460.70,1188.00 L1410.71,1177.70 L1400.34,1196.41 L1410.71,1177.70 L1416.96,1178.99 L1406.59,1197.70 L1416.96,1178.99 L1423.21,1180.28 L1412.84,1198.98 L1423.21,1180.28 L1429.46,1181.56 L1424.27,1190.92 L1429.46,1181.56ZM1460.70,1230.30 L1410.05,1224.00 L1401.20,1243.47 L1410.05,1224.00 L1416.38,1224.79 L1407.53,1244.26 L1416.38,1224.79 L1422.71,1225.58 L1413.86,1245.05 L1422.71,1225.58 L1429.04,1226.36 L1424.62,1236.10 L1429.04,1226.36ZM1460.70,1270.20 L1409.67,1269.20 L1402.89,1289.49 L1409.67,1269.20 L1416.05,1269.33 L1409.27,1289.61 L1416.05,1269.33 L1422.43,1269.45 L1415.65,1289.74 L1422.43,1269.45ZM1460.70,1307.80 L1409.71,1310.20 L1404.30,1330.89 L1409.71,1310.20 L1416.09,1309.90 L1410.67,1330.59 L1416.09,1309.90 L1422.46,1309.60 L1417.05,1330.29 L1422.46,1309.60ZM1460.70,1344.10 L1409.79,1347.70 L1404.86,1368.52 L1409.79,1347.70 L1416.15,1347.25 L1411.23,1368.07 L1416.15,1347.25 L1422.51,1346.80 L1420.05,1357.21 L1422.51,1346.80ZM1460.70,1376.80 L1410.51,1386.10 L1407.96,1407.34 L1410.51,1386.10 L1416.79,1384.94 L1414.23,1406.17 L1416.79,1384.94ZM1460.70,1407.60 L1410.92,1418.90 L1409.22,1440.22 L1410.92,1418.90 L1417.15,1417.49 L1415.44,1438.81 L1417.15,1417.49ZM1460.70,1464.40 L1409.90,1469.40 L1405.55,1490.34 L1409.90,1469.40 L1416.25,1468.78 L1414.08,1479.25 L1416.25,1468.78ZM1460.70,1488.80 L1409.74,1486.00 L1402.24,1506.04 L1409.74,1486.00ZM1460.70,1533.90 L1410.21,1526.40 L1400.90,1545.66 L1410.21,1526.40ZM1460.70,1574.00 L1452.31,1523.65 L1431.12,1520.72 L1452.31,1523.65ZM1460.70,1606.80 L1452.95,1556.35 L1431.81,1553.14 L1452.95,1556.35ZM1460.70,1646.30 L1455.70,1595.50 L1434.76,1591.15 L1455.70,1595.50ZM1460.70,1688.30 L1458.20,1637.32 L1458.67,1646.88 L1448.31,1644.19 L1458.67,1646.88Z" fill="#000" stroke="#000" stroke-width="2.05" stroke-linejoin="miter"/>
<g clip-path="url(#ch)" fill="none">
<circle cx="2000.70" cy="573.20" r="53.98" stroke="#808080" stroke-opacity="0.25" stroke-width="1.67" stroke-dasharray="6.17,2.67"/>
<circle cx="2000.70" cy="573.20" r="161.93" stroke="#808080" stroke-opacity="0.25" stroke-width="1.67" stroke-dasharray="6.17,2.67"/>
<circle cx="2000.70" cy="573.20" r="269.88" stroke="#808080" stroke-opacity="0.25" stroke-width="1.67" stroke-dasharray="6.17,2.67"/>
<circle cx="2000.70" cy="573.20" r="377.82" stroke="#808080" stroke-opacity="0.25" stroke-width="1.67" stroke-dasharray="6.17,2.67"/>
<circle cx="2000.70" cy="573.20" r="485.77" stroke="#808080" stroke-opacity="0.25" stroke-width="1.67" stroke-dasharray="6.17,2.67"/>
<circle cx="2000.70" cy="573.20" r="593.73" stroke="#808080" stroke-opacity="0.25" stroke-width="1.67" stroke-dasharray="6.17,2.67"/>
<circle cx="2000.70" cy="573.20" r="107.95" stroke="#808080" stroke-opacity="0.6" stroke-width="2.45"/>
<circle cx="2000.70" cy="573.20" r="215.90" stroke="#808080" stroke-opacity="0.6" stroke-width="2.45"/>
<circle cx="2000.70" cy="573.20" r="323.85" stroke="#808080" stroke-opacity="0.6" stroke-width="2.45"/>
<circle cx="2000.70" cy="573.20" r="431.80" stroke="#808080" stroke-opacity="0.6" stroke-width="2.45"/>
<circle cx="2000.70" cy="573.20" r="539.75" stroke="#808080" stroke-opacity="0.6" stroke-width="2.45"/>
<circle cx="2000.70" cy="573.20" r="647.70" stroke="#808080" stroke-opacity="0.6" stroke-width="2.45"/>
<path d="M1568.9,573.20H2432.5M2000.70,141.4V1005.0" stroke="#808080" stroke-opacity="0.62" stroke-width="2.9"/>
<text y="570.80" font-size="21.88" font-weight="bold" fill="#808080" stroke="#808080" stroke-width="0.46" opacity="0.62"><tspan x="2056.58" textLength="27.54" lengthAdjust="spacingAndGlyphs">10</tspan></text>
<text y="516.62" font-size="21.88" font-weight="bold" fill="#808080" stroke="#808080" stroke-width="0.46" opacity="0.62"><tspan x="2002.30" textLength="27.54" lengthAdjust="spacingAndGlyphs">10</tspan></text>
<text y="570.80" font-size="21.88" font-weight="bold" fill="#808080" stroke="#808080" stroke-width="0.46" opacity="0.62"><tspan x="2110.55" textLength="27.54" lengthAdjust="spacingAndGlyphs">20</tspan></text>
<text y="462.65" font-size="21.88" font-weight="bold" fill="#808080" stroke="#808080" stroke-width="0.46" opacity="0.62"><tspan x="2002.30" textLength="27.54" lengthAdjust="spacingAndGlyphs">20</tspan></text>
<text y="570.80" font-size="21.88" font-weight="bold" fill="#808080" stroke="#808080" stroke-width="0.46" opacity="0.62"><tspan x="2164.53" textLength="27.54" lengthAdjust="spacingAndGlyphs">30</tspan></text>
<text y="408.68" font-size="21.88" font-weight="bold" fill="#808080" stroke="#808080" stroke-width="0.46" opacity="0.62"><tspan x="2002.30" textLength="27.54" lengthAdjust="spacingAndGlyphs">30</tspan></text>
<text y="570.80" font-size="21.88" font-weight="bold" fill="#808080" stroke="#808080" stroke-width="0.46" opacity="0.62"><tspan x="2218.50" textLength="27.54" lengthAdjust="spacingAndGlyphs">40</tspan></text>
<text y="354.70" font-size="21.88" font-weight="bold" fill="#808080" stroke="#808080" stroke-width="0.46" opacity="0.62"><tspan x="2002.30" textLength="27.54" lengthAdjust="spacingAndGlyphs">40</tspan></text>
<text y="570.80" font-size="21.88" font-weight="bold" fill="#808080" stroke="#808080" stroke-width="0.46" opacity="0.62"><tspan x="2272.47" textLength="27.54" lengthAdjust="spacingAndGlyphs">50</tspan></text>
<text y="300.73" font-size="21.88" font-weight="bold" fill="#808080" stroke="#808080" stroke-width="0.46" opacity="0.62"><tspan x="2002.30" textLength="27.54" lengthAdjust="spacingAndGlyphs">50</tspan></text>
<text y="570.80" font-size="21.88" font-weight="bold" fill="#808080" stroke="#808080" stroke-width="0.46" opacity="0.62"><tspan x="2326.45" textLength="27.54" lengthAdjust="spacingAndGlyphs">60</tspan></text>
<text y="246.75" font-size="21.88" font-weight="bold" fill="#808080" stroke="#808080" stroke-width="0.46" opacity="0.62"><tspan x="2002.30" textLength="27.54" lengthAdjust="spacingAndGlyphs">60</tspan></text>
<text y="570.80" font-size="21.88" font-weight="bold" fill="#808080" stroke="#808080" stroke-width="0.46" opacity="0.62"><tspan x="2380.43" textLength="27.54" lengthAdjust="spacingAndGlyphs">70</tspan></text>
<text y="192.78" font-size="21.88" font-weight="bold" fill="#808080" stroke="#808080" stroke-width="0.46" opacity="0.62"><tspan x="2002.30" textLength="27.54" lengthAdjust="spacingAndGlyphs">70</tspan></text>
<path d="M2001.16,573.65 L2047.21,526.50 L2051.38,530.57 L2060.88,511.56 L2042.11,521.52 L2046.28,525.59 L2000.24,572.75Z" fill="#808080" fill-opacity="0.6" stroke="#808080" stroke-opacity="0.6" stroke-width="2.6" stroke-linejoin="miter"/>
<text y="519.20" font-size="26.25" font-weight="bold" fill="#000" stroke="#000" stroke-width="0.55" opacity="0.6"><tspan x="2071.00" textLength="40.81" lengthAdjust="spacingAndGlyphs">LM</tspan></text>
<path d="M2028.28,587.02 L2015.97,592.09M2015.97,592.09 L2000.70,602.99M2000.70,602.99 L1992.71,614.60M1992.71,614.60 L1989.80,621.89M1989.80,621.89 L1995.63,629.12M1995.63,629.12 L2002.16,635.65M2002.16,635.65 L2010.15,635.81" stroke="#ff0000" stroke-width="12.50" stroke-linecap="butt"/>
<path d="M2009.34,634.73 L2029.74,605.91M2029.74,605.91 L2041.40,579.73M2041.40,579.73 L2042.80,573.20M2042.80,573.20 L2050.90,574.28M2050.90,574.28 L2055.75,573.74M2055.75,573.74 L2073.35,564.51" stroke="#008000" stroke-width="12.50" stroke-linecap="butt"/>
<path d="M2073.35,564.51 L2084.95,552.15M2084.95,552.15 L2090.03,550.69M2090.03,550.69 L2099.47,551.39M2099.47,551.39 L2106.76,552.85M2106.76,552.85 L2134.34,558.68M2134.34,558.68 L2153.23,565.91M2153.23,565.91 L2166.30,579.03M2166.30,579.03 L2185.19,604.45" stroke="#ffff00" stroke-width="12.50" stroke-linecap="butt"/>
<path d="M2185.19,604.45 L2193.93,613.14M2193.93,613.14 L2221.51,620.43M2221.51,620.43 L2239.65,619.67M2239.65,619.67 L2275.43,616.92M2275.43,616.92 L2324.55,612.60M2324.55,612.60 L2345.60,609.80M2345.60,609.80 L2355.86,603.10" stroke="#0000ff" stroke-width="12.50" stroke-linecap="butt"/>
<path d="M2355.86,603.10 L2374.75,590.31M2374.75,590.31 L2398.50,577.57M2398.50,577.57 L2417.39,570.88M2417.39,570.88 L2429.80,569.10M2429.80,569.10 L2437.90,568.07" stroke="#ff00ff" stroke-width="12.50" stroke-linecap="butt"/>
</g>
<rect x="1579.1" y="151.2" width="267.8" height="66.5" rx="4.2" fill="#fff" fill-opacity="0.8" stroke="#ccc" stroke-opacity="0.8" stroke-width="2.08"/>
<rect x="1588.6" y="162.2" width="41.2" height="12.5" fill="#1f77b4"/>
<rect x="1588.6" y="191.3" width="41.2" height="14.6" fill="#808080" fill-opacity="0.6" stroke="#808080" stroke-opacity="0.6" stroke-width="2.9"/>
<text y="175.60" font-size="21.88" fill="#000" stroke="#000" stroke-width="0.25"><tspan x="1646.40" textLength="79.64" lengthAdjust="spacingAndGlyphs">0-12km</tspan><tspan x="1732.66" textLength="58.37" lengthAdjust="spacingAndGlyphs">WIND</tspan></text>
<text y="206.60" font-size="21.88" fill="#000" stroke="#000" stroke-width="0.25"><tspan x="1646.40" textLength="84.26" lengthAdjust="spacingAndGlyphs">Bunkers</tspan><tspan x="1737.28" textLength="29.58" lengthAdjust="spacingAndGlyphs">LM</tspan><tspan x="1773.49" textLength="66.39" lengthAdjust="spacingAndGlyphs">Vector</tspan></text>
<rect x="1568.9" y="140.9" width="864.2" height="863.6" fill="none" stroke="#000" stroke-width="1.67"/>
<rect x="1541.8" y="1058.8" width="918.5" height="720.0" fill="none" stroke="#000" stroke-width="2.08"/>
<text y="1112.90" font-size="28.44" font-weight="bold" fill="#000" stroke="#000" stroke-width="0.60"><tspan x="1569.30" textLength="130.17" lengthAdjust="spacingAndGlyphs">SBCAPE:</tspan></text>
<text y="1112.90" font-size="28.44" font-weight="bold" fill="#ff4500" stroke="#ff4500" stroke-width="0.60"><tspan x="1731.50" textLength="37.69" lengthAdjust="spacingAndGlyphs">15</tspan><tspan x="1778.62" textLength="57.37" lengthAdjust="spacingAndGlyphs">J/kg</tspan></text>
<text y="1184.88" font-size="28.44" font-weight="bold" fill="#000" stroke="#000" stroke-width="0.60"><tspan x="1569.30" textLength="103.60" lengthAdjust="spacingAndGlyphs">SBCIN:</tspan></text>
<text y="1184.88" font-size="28.44" font-weight="bold" fill="#add8e6" stroke="#add8e6" stroke-width="0.60"><tspan x="1731.50" textLength="67.77" lengthAdjust="spacingAndGlyphs">-122</tspan><tspan x="1808.70" textLength="57.37" lengthAdjust="spacingAndGlyphs">J/kg</tspan></text>
<text y="1256.86" font-size="28.44" font-weight="bold" fill="#000" stroke="#000" stroke-width="0.60"><tspan x="1569.30" textLength="134.23" lengthAdjust="spacingAndGlyphs">MLCAPE:</tspan></text>
<text y="1256.86" font-size="28.44" font-weight="bold" fill="#ff4500" stroke="#ff4500" stroke-width="0.60"><tspan x="1731.50">7</tspan><tspan x="1759.77" textLength="57.37" lengthAdjust="spacingAndGlyphs">J/kg</tspan></text>
<text y="1328.84" font-size="28.44" font-weight="bold" fill="#000" stroke="#000" stroke-width="0.60"><tspan x="1569.30" textLength="107.66" lengthAdjust="spacingAndGlyphs">MLCIN:</tspan></text>
<text y="1328.84" font-size="28.44" font-weight="bold" fill="#add8e6" stroke="#add8e6" stroke-width="0.60"><tspan x="1731.50" textLength="48.93" lengthAdjust="spacingAndGlyphs">-21</tspan><tspan x="1789.86" textLength="57.37" lengthAdjust="spacingAndGlyphs">J/kg</tspan></text>
<text y="1400.82" font-size="28.44" font-weight="bold" fill="#000" stroke="#000" stroke-width="0.60"><tspan x="1569.30" textLength="138.96" lengthAdjust="spacingAndGlyphs">MUCAPE:</tspan></text>
<text y="1400.82" font-size="28.44" font-weight="bold" fill="#ff4500" stroke="#ff4500" stroke-width="0.60"><tspan x="1731.50" textLength="37.69" lengthAdjust="spacingAndGlyphs">97</tspan><tspan x="1778.62" textLength="57.37" lengthAdjust="spacingAndGlyphs">J/kg</tspan></text>
<text y="1472.80" font-size="28.44" font-weight="bold" fill="#000" stroke="#000" stroke-width="0.60"><tspan x="1569.30" textLength="112.39" lengthAdjust="spacingAndGlyphs">MUCIN:</tspan></text>
<text y="1472.80" font-size="28.44" font-weight="bold" fill="#add8e6" stroke="#add8e6" stroke-width="0.60"><tspan x="1731.50" textLength="30.09" lengthAdjust="spacingAndGlyphs">-8</tspan><tspan x="1771.01" textLength="57.37" lengthAdjust="spacingAndGlyphs">J/kg</tspan></text>
<text y="1544.78" font-size="28.44" font-weight="bold" fill="#000" stroke="#000" stroke-width="0.60"><tspan x="1569.30" textLength="112.50" lengthAdjust="spacingAndGlyphs">DCAPE:</tspan></text>
<text y="1544.78" font-size="28.44" font-weight="bold" fill="#ff4500" stroke="#ff4500" stroke-width="0.60"><tspan x="1731.50" textLength="56.53" lengthAdjust="spacingAndGlyphs">399</tspan><tspan x="1797.46" textLength="57.37" lengthAdjust="spacingAndGlyphs">J/kg</tspan></text>
<text y="1616.76" font-size="28.44" font-weight="bold" fill="#000" stroke="#000" stroke-width="0.60"><tspan x="1569.30" textLength="135.31" lengthAdjust="spacingAndGlyphs">K-INDEX:</tspan></text>
<text y="1616.76" font-size="28.44" font-weight="bold" fill="#ff4500" stroke="#ff4500" stroke-width="0.60"><tspan x="1731.50" textLength="37.69" lengthAdjust="spacingAndGlyphs">32</tspan><tspan x="1778.62" textLength="33.42" lengthAdjust="spacingAndGlyphs">°C</tspan></text>
<text y="1688.74" font-size="28.44" font-weight="bold" fill="#000" stroke="#000" stroke-width="0.60"><tspan x="1569.30" textLength="38.17" lengthAdjust="spacingAndGlyphs">LI:</tspan></text>
<text y="1688.74" font-size="28.44" font-weight="bold" fill="#000" stroke="#000" stroke-width="0.60"><tspan x="1731.50" textLength="47.98" lengthAdjust="spacingAndGlyphs">0.4</tspan></text>
<text y="1760.72" font-size="28.44" font-weight="bold" fill="#000" stroke="#000" stroke-width="0.60"><tspan x="1569.30" textLength="40.41" lengthAdjust="spacingAndGlyphs">SI:</tspan></text>
<text y="1760.72" font-size="28.44" font-weight="bold" fill="#000" stroke="#000" stroke-width="0.60"><tspan x="1731.50" textLength="47.98" lengthAdjust="spacingAndGlyphs">2.0</tspan></text>
<text y="1112.90" font-size="28.44" font-weight="bold" fill="#000" stroke="#000" stroke-width="0.60"><tspan x="1919.80" textLength="95.16" lengthAdjust="spacingAndGlyphs">0-1km</tspan><tspan x="2024.39" textLength="73.86" lengthAdjust="spacingAndGlyphs">SRH:</tspan></text>
<text y="1112.90" font-size="28.44" font-weight="bold" fill="#000080" stroke="#000080" stroke-width="0.60"><tspan x="2136.30" textLength="30.09" lengthAdjust="spacingAndGlyphs">-9</tspan><tspan x="2175.81" textLength="77.96" lengthAdjust="spacingAndGlyphs">m²/s²</tspan></text>
<text y="1193.87" font-size="28.44" font-weight="bold" fill="#000" stroke="#000" stroke-width="0.60"><tspan x="1919.80" textLength="95.16" lengthAdjust="spacingAndGlyphs">0-1km</tspan><tspan x="2024.39" textLength="73.86" lengthAdjust="spacingAndGlyphs">SHR:</tspan></text>
<text y="1193.87" font-size="28.44" font-weight="bold" fill="#0000ff" stroke="#0000ff" stroke-width="0.60"><tspan x="2136.30">8</tspan><tspan x="2164.57" textLength="37.29" lengthAdjust="spacingAndGlyphs">kn</tspan></text>
<text y="1274.84" font-size="28.44" font-weight="bold" fill="#000" stroke="#000" stroke-width="0.60"><tspan x="1919.80" textLength="95.16" lengthAdjust="spacingAndGlyphs">0-3km</tspan><tspan x="2024.39" textLength="73.86" lengthAdjust="spacingAndGlyphs">SRH:</tspan></text>
<text y="1274.84" font-size="28.44" font-weight="bold" fill="#000080" stroke="#000080" stroke-width="0.60"><tspan x="2136.30" textLength="48.93" lengthAdjust="spacingAndGlyphs">-44</tspan><tspan x="2194.66" textLength="77.96" lengthAdjust="spacingAndGlyphs">m²/s²</tspan></text>
<text y="1355.81" font-size="28.44" font-weight="bold" fill="#000" stroke="#000" stroke-width="0.60"><tspan x="1919.80" textLength="95.16" lengthAdjust="spacingAndGlyphs">0-6km</tspan><tspan x="2024.39" textLength="73.86" lengthAdjust="spacingAndGlyphs">SHR:</tspan></text>
<text y="1355.81" font-size="28.44" font-weight="bold" fill="#0000ff" stroke="#0000ff" stroke-width="0.60"><tspan x="2136.30" textLength="37.69" lengthAdjust="spacingAndGlyphs">29</tspan><tspan x="2183.42" textLength="37.29" lengthAdjust="spacingAndGlyphs">kn</tspan></text>
<text y="1436.78" font-size="28.44" font-weight="bold" fill="#000" stroke="#000" stroke-width="0.60"><tspan x="1919.80" textLength="51.81" lengthAdjust="spacingAndGlyphs">SIG</tspan><tspan x="1981.04" textLength="95.85" lengthAdjust="spacingAndGlyphs">TORN:</tspan></text>
<text y="1436.78" font-size="28.44" font-weight="bold" fill="#ff4500" stroke="#ff4500" stroke-width="0.60"><tspan x="2136.30" textLength="47.98" lengthAdjust="spacingAndGlyphs">0.0</tspan></text>
<text y="1517.75" font-size="28.44" font-weight="bold" fill="#000" stroke="#000" stroke-width="0.60"><tspan x="1919.80" textLength="70.06" lengthAdjust="spacingAndGlyphs">SCP:</tspan></text>
<text y="1517.75" font-size="28.44" font-weight="bold" fill="#ff4500" stroke="#ff4500" stroke-width="0.60"><tspan x="2136.30" textLength="47.98" lengthAdjust="spacingAndGlyphs">0.1</tspan></text>
<text y="1598.72" font-size="28.44" font-weight="bold" fill="#000" stroke="#000" stroke-width="0.60"><tspan x="1919.80" textLength="38.11" lengthAdjust="spacingAndGlyphs">LR</tspan><tspan x="1967.34" textLength="135.14" lengthAdjust="spacingAndGlyphs">700-500:</tspan></text>
<text y="1598.72" font-size="28.44" font-weight="bold" fill="#ff4500" stroke="#ff4500" stroke-width="0.60"><tspan x="2136.30" textLength="47.98" lengthAdjust="spacingAndGlyphs">5.5</tspan><tspan x="2193.71" textLength="179.89" lengthAdjust="spacingAndGlyphs">Δ°C·K/km/m</tspan></text>
<text y="1679.69" font-size="28.44" font-weight="bold" fill="#000" stroke="#000" stroke-width="0.60"><tspan x="1919.80" textLength="54.39" lengthAdjust="spacingAndGlyphs">LCL</tspan><tspan x="1983.62" textLength="72.24" lengthAdjust="spacingAndGlyphs">HGT:</tspan></text>
<text y="1679.69" font-size="28.44" font-weight="bold" fill="#ff4500" stroke="#ff4500" stroke-width="0.60"><tspan x="2136.30" textLength="81.29" lengthAdjust="spacingAndGlyphs">[107]</tspan><tspan x="2227.02">m</tspan></text>
<text y="1760.66" font-size="28.44" font-weight="bold" fill="#000" stroke="#000" stroke-width="0.60"><tspan x="1919.80" textLength="59.72" lengthAdjust="spacingAndGlyphs">PW:</tspan></text>
<text y="1760.66" font-size="28.44" font-weight="bold" fill="#000080" stroke="#000080" stroke-width="0.60"><tspan x="2136.30" textLength="66.82" lengthAdjust="spacingAndGlyphs">43.6</tspan><tspan x="2212.55" textLength="56.44" lengthAdjust="spacingAndGlyphs">mm</tspan></text>
</svg></body></html>
